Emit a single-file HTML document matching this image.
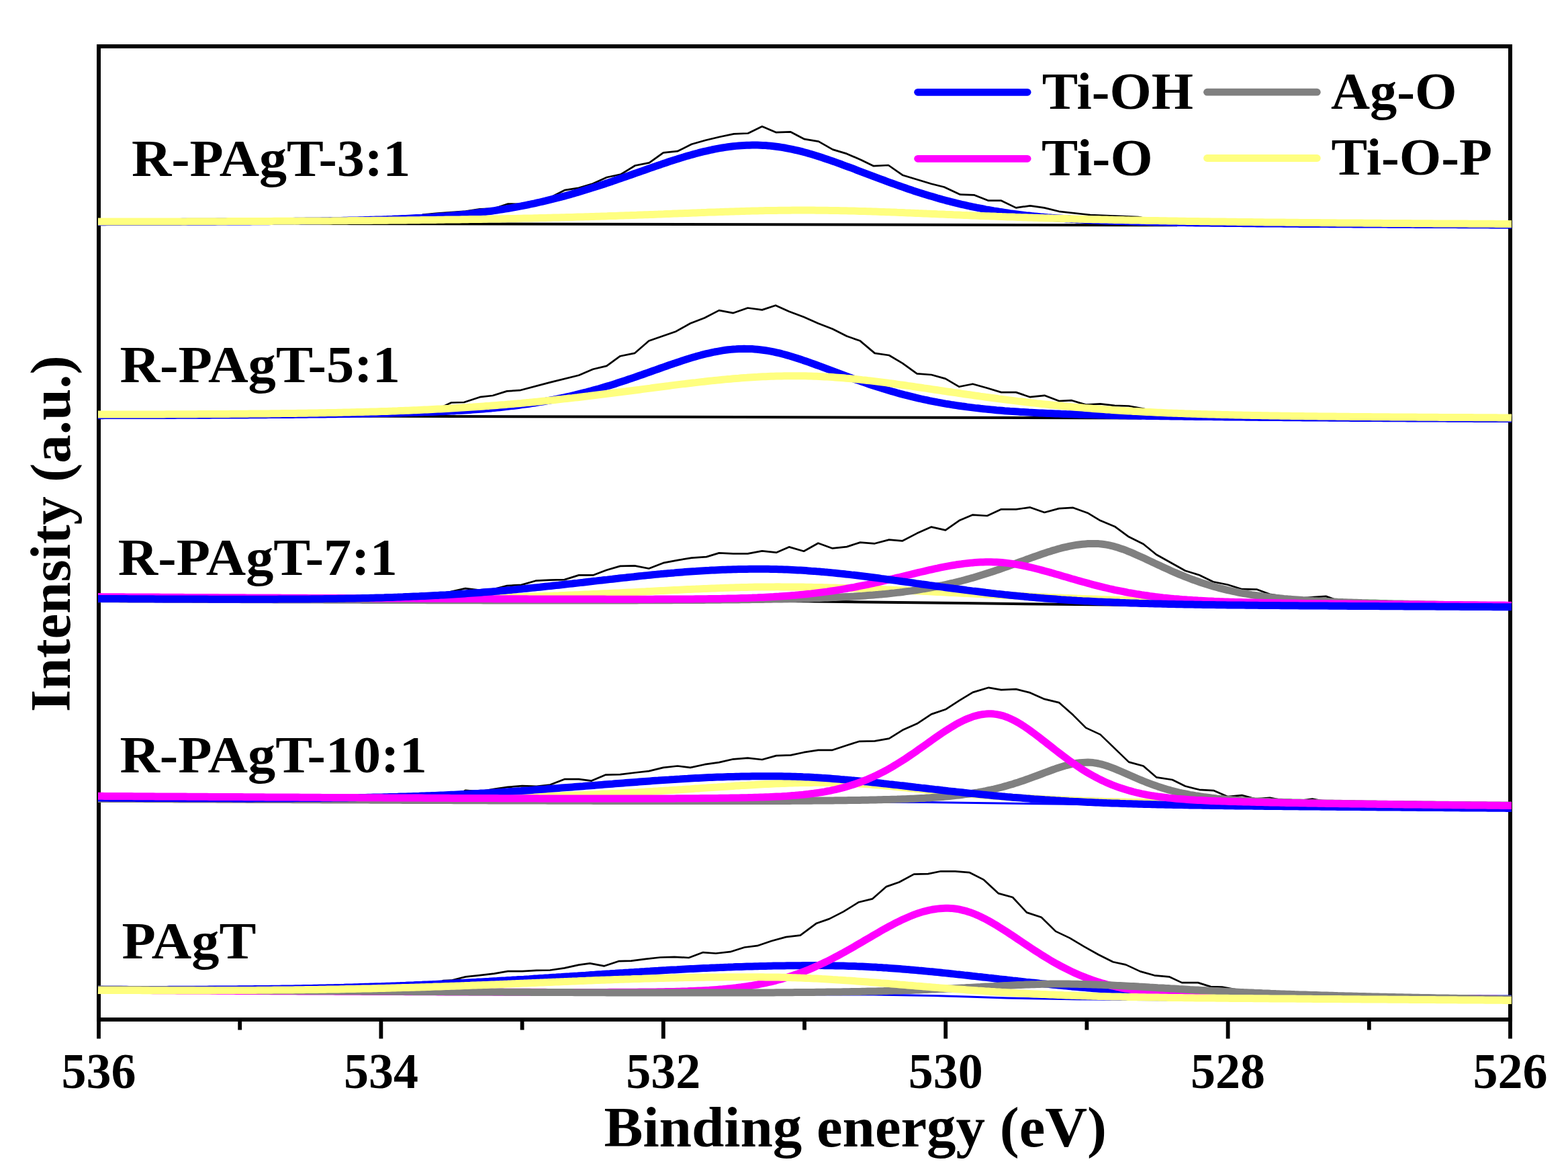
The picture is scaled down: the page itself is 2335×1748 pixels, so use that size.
<!DOCTYPE html>
<html><head><meta charset="utf-8"><style>html,body{margin:0;padding:0;background:#fff;overflow:hidden;}svg{display:block;}</style></head><body>
<svg width="2335" height="1748" viewBox="0 0 2335 1748">
<rect width="2335" height="1748" fill="#fff"/>
<rect x="147" y="69" width="2102" height="1449" fill="none" stroke="#000" stroke-width="6"/>
<g fill="none" stroke-linejoin="round">
<polyline points="440,333 1753,335.3" stroke="#000" stroke-width="4"/>
<polyline points="146,330.1 168,330.1 189,330.1 210.1,330 231.1,330 252.1,329.9 273.1,329.9 294.1,329.8 315.2,329.7 336.2,329.7 357.2,329.6 378.2,329.5 399.2,329.4 420.3,329.3 441.3,329.2 462.3,329 483.3,328.9 504.3,328.8 525.4,328.6 546.4,328.4 567.4,328.2 588.4,328 609.4,327.8 630.5,319.5 651.5,317.5 672.5,316 693.5,314.6 714.5,311.3 735.6,310.6 756.6,303.5 777.6,304 798.6,299.3 819.6,293.9 840.7,283.2 861.7,279.8 882.7,273.6 903.7,264 924.7,259.5 945.8,246.5 966.8,242.4 987.8,227.3 1008.8,225.2 1029.8,214.8 1050.9,208.8 1071.9,203.7 1092.9,199.4 1113.9,198.5 1134.9,188.3 1156,197.2 1177,196.3 1198,207.2 1219,210.7 1240,222.6 1261,228.9 1282,238 1301,247.2 1323,246 1344,260.7 1387,273.8 1406,278.5 1430,289.7 1451,290.4 1472,298.7 1491,298.7 1513,309.4 1534,306.3 1555,309.4 1577,314.8 1624,320 1672,322 1695,323.1 1723.5,328.6 1744.5,329 1765.5,329.3 1786.6,329.6 1807.6,329.9 1828.6,330.2 1849.6,330.5 1870.6,330.7 1891.7,330.9 1912.7,331.2 1933.7,331.4 1954.7,331.5 1975.7,331.7 1996.8,331.9 2017.8,332.1 2038.8,332.2 2059.8,332.4 2080.8,332.5 2101.9,332.7 2122.9,332.8 2143.9,332.9 2164.9,333 2185.9,333.1 2207,333.3 2228,333.4 2251,333.5" stroke="#000" stroke-width="2.7"/>
<polyline points="146,330.7 148,330.7 152,330.7 156,330.7 160,330.6 164,330.6 168,330.6 172,330.6 176,330.6 180,330.6 184,330.6 188,330.6 192,330.6 196,330.6 200,330.6 204,330.6 208,330.5 212,330.5 216,330.5 220,330.5 224,330.5 228,330.5 232,330.5 236,330.5 240,330.5 244,330.4 248,330.4 252,330.4 256,330.4 260,330.4 264,330.4 268,330.4 272,330.3 276,330.3 280,330.3 284,330.3 288,330.3 292,330.3 296,330.3 300,330.2 304,330.2 308,330.2 312,330.2 316,330.2 320,330.2 324,330.1 328,330.1 332,330.1 336,330.1 340,330.1 344,330 348,330 352,330 356,330 360,329.9 364,329.9 368,329.9 372,329.9 376,329.8 380,329.8 384,329.8 388,329.8 392,329.7 396,329.7 400,329.7 404,329.6 408,329.6 412,329.6 416,329.5 420,329.5 424,329.5 428,329.4 432,329.4 436,329.4 440,329.3 444,329.3 448,329.2 452,329.2 456,329.1 460,329.1 464,329 468,329 472,328.9 476,328.9 480,328.8 484,328.8 488,328.7 492,328.6 496,328.6 500,328.5 504,328.4 508,328.4 512,328.3 516,328.2 520,328.1 524,328 528,327.9 532,327.9 536,327.8 540,327.7 544,327.6 548,327.5 552,327.3 556,327.2 560,327.1 564,327 568,326.9 572,326.7 576,326.6 580,326.4 584,326.3 588,326.1 592,326 596,325.8 600,325.6 604,325.4 608,325.2 612,325 616,324.8 620,324.6 624,324.4 628,324.2 632,323.9 636,323.7 640,323.4 644,323.2 648,322.9 652,322.6 656,322.3 660,322 664,321.7 668,321.3 672,321 676,320.6 680,320.3 684,319.9 688,319.5 692,319.1 696,318.7 700,318.2 704,317.8 708,317.3 712,316.8 716,316.3 720,315.8 724,315.3 728,314.8 732,314.2 736,313.6 740,313 744,312.4 748,311.8 752,311.1 756,310.5 760,309.8 764,309.1 768,308.4 772,307.6 776,306.9 780,306.1 784,305.3 788,304.5 792,303.6 796,302.8 800,301.9 804,301 808,300.1 812,299.2 816,298.2 820,297.2 824,296.2 828,295.2 832,294.2 836,293.1 840,292.1 844,291 848,289.9 852,288.7 856,287.6 860,286.4 864,285.2 868,284 872,282.8 876,281.6 880,280.3 884,279.1 888,277.8 892,276.5 896,275.2 900,273.9 904,272.6 908,271.2 912,269.9 916,268.5 920,267.1 924,265.8 928,264.4 932,263 936,261.6 940,260.2 944,258.8 948,257.4 952,256 956,254.6 960,253.2 964,251.8 968,250.4 972,249 976,247.6 980,246.2 984,244.9 988,243.5 992,242.2 996,240.8 1000,239.5 1004,238.2 1008,237 1012,235.7 1016,234.5 1020,233.3 1024,232.1 1028,231 1032,229.9 1036,228.8 1040,227.7 1044,226.7 1048,225.7 1052,224.8 1056,223.9 1060,223 1064,222.2 1068,221.4 1072,220.7 1076,220 1080,219.4 1084,218.8 1088,218.3 1092,217.8 1096,217.4 1100,217 1104,216.7 1108,216.5 1112,216.3 1116,216.2 1120,216.1 1124,216.1 1128,216.1 1132,216.2 1136,216.4 1140,216.6 1144,216.9 1148,217.3 1152,217.7 1156,218.2 1160,218.8 1164,219.4 1168,220 1172,220.8 1176,221.6 1180,222.4 1184,223.3 1188,224.2 1192,225.2 1196,226.2 1200,227.3 1204,228.4 1208,229.6 1212,230.8 1216,232 1220,233.3 1224,234.6 1228,235.9 1232,237.2 1236,238.6 1240,240 1244,241.4 1248,242.9 1252,244.3 1256,245.8 1260,247.3 1264,248.7 1268,250.2 1272,251.7 1276,253.3 1280,254.8 1284,256.3 1288,257.8 1292,259.3 1296,260.8 1300,262.4 1304,263.9 1308,265.4 1312,266.9 1316,268.3 1320,269.8 1324,271.3 1328,272.7 1332,274.2 1336,275.6 1340,277 1344,278.4 1348,279.8 1352,281.2 1356,282.5 1360,283.9 1364,285.2 1368,286.5 1372,287.7 1376,289 1380,290.2 1384,291.4 1388,292.6 1392,293.8 1396,295 1400,296.1 1404,297.2 1408,298.3 1412,299.3 1416,300.4 1420,301.4 1424,302.4 1428,303.3 1432,304.3 1436,305.2 1440,306.1 1444,307 1448,307.8 1452,308.6 1456,309.5 1460,310.2 1464,311 1468,311.8 1472,312.5 1476,313.2 1480,313.9 1484,314.5 1488,315.2 1492,315.8 1496,316.4 1500,317 1504,317.6 1508,318.1 1512,318.6 1516,319.1 1520,319.6 1524,320.1 1528,320.6 1532,321 1536,321.5 1540,321.9 1544,322.3 1548,322.7 1552,323.1 1556,323.4 1560,323.8 1564,324.1 1568,324.4 1572,324.7 1576,325 1580,325.3 1584,325.6 1588,325.9 1592,326.1 1596,326.4 1600,326.6 1604,326.9 1608,327.1 1612,327.3 1616,327.5 1620,327.7 1624,327.9 1628,328.1 1632,328.3 1636,328.4 1640,328.6 1644,328.8 1648,328.9 1652,329.1 1656,329.2 1660,329.3 1664,329.5 1668,329.6 1672,329.7 1676,329.8 1680,329.9 1684,330.1 1688,330.2 1692,330.3 1696,330.4 1700,330.5 1704,330.6 1708,330.6 1712,330.7 1716,330.8 1720,330.9 1724,331 1728,331.1 1732,331.1 1736,331.2 1740,331.3 1744,331.3 1748,331.4 1752,331.5 1756,331.5 1760,331.6 1764,331.6 1768,331.7 1772,331.8 1776,331.8 1780,331.9 1784,331.9 1788,332 1792,332 1796,332.1 1800,332.1 1804,332.2 1808,332.2 1812,332.3 1816,332.3 1820,332.3 1824,332.4 1828,332.4 1832,332.5 1836,332.5 1840,332.6 1844,332.6 1848,332.6 1852,332.7 1856,332.7 1860,332.7 1864,332.8 1868,332.8 1872,332.9 1876,332.9 1880,332.9 1884,333 1888,333 1892,333 1896,333.1 1900,333.1 1904,333.1 1908,333.1 1912,333.2 1916,333.2 1920,333.2 1924,333.3 1928,333.3 1932,333.3 1936,333.4 1940,333.4 1944,333.4 1948,333.4 1952,333.5 1956,333.5 1960,333.5 1964,333.5 1968,333.6 1972,333.6 1976,333.6 1980,333.7 1984,333.7 1988,333.7 1992,333.7 1996,333.8 2000,333.8 2004,333.8 2008,333.8 2012,333.8 2016,333.9 2020,333.9 2024,333.9 2028,333.9 2032,334 2036,334 2040,334 2044,334 2048,334.1 2052,334.1 2056,334.1 2060,334.1 2064,334.1 2068,334.2 2072,334.2 2076,334.2 2080,334.2 2084,334.2 2088,334.3 2092,334.3 2096,334.3 2100,334.3 2104,334.3 2108,334.4 2112,334.4 2116,334.4 2120,334.4 2124,334.4 2128,334.5 2132,334.5 2136,334.5 2140,334.5 2144,334.5 2148,334.5 2152,334.6 2156,334.6 2160,334.6 2164,334.6 2168,334.6 2172,334.7 2176,334.7 2180,334.7 2184,334.7 2188,334.7 2192,334.7 2196,334.8 2200,334.8 2204,334.8 2208,334.8 2212,334.8 2216,334.8 2220,334.9 2224,334.9 2228,334.9 2232,334.9 2236,334.9 2240,334.9 2244,335 2248,335 2251,335" stroke="#0000ff" stroke-width="11"/>
<polyline points="146,330.1 148,330.1 152,330.1 156,330.1 160,330.1 164,330.1 168,330.1 172,330.1 176,330.1 180,330.1 184,330.1 188,330.1 192,330.1 196,330.1 200,330 204,330 208,330 212,330 216,330 220,330 224,330 228,330 232,330 236,330 240,330 244,329.9 248,329.9 252,329.9 256,329.9 260,329.9 264,329.9 268,329.9 272,329.9 276,329.9 280,329.8 284,329.8 288,329.8 292,329.8 296,329.8 300,329.8 304,329.8 308,329.8 312,329.7 316,329.7 320,329.7 324,329.7 328,329.7 332,329.7 336,329.7 340,329.6 344,329.6 348,329.6 352,329.6 356,329.6 360,329.6 364,329.5 368,329.5 372,329.5 376,329.5 380,329.5 384,329.5 388,329.4 392,329.4 396,329.4 400,329.4 404,329.4 408,329.3 412,329.3 416,329.3 420,329.3 424,329.3 428,329.2 432,329.2 436,329.2 440,329.2 444,329.2 448,329.1 452,329.1 456,329.1 460,329.1 464,329 468,329 472,329 476,329 480,328.9 484,328.9 488,328.9 492,328.9 496,328.8 500,328.8 504,328.8 508,328.7 512,328.7 516,328.7 520,328.6 524,328.6 528,328.6 532,328.6 536,328.5 540,328.5 544,328.5 548,328.4 552,328.4 556,328.3 560,328.3 564,328.3 568,328.2 572,328.2 576,328.2 580,328.1 584,328.1 588,328 592,328 596,328 600,327.9 604,327.9 608,327.8 612,327.8 616,327.7 620,327.7 624,327.7 628,327.6 632,327.6 636,327.5 640,327.5 644,327.4 648,327.4 652,327.3 656,327.3 660,327.2 664,327.1 668,327.1 672,327 676,327 680,326.9 684,326.9 688,326.8 692,326.7 696,326.7 700,326.6 704,326.5 708,326.5 712,326.4 716,326.4 720,326.3 724,326.2 728,326.1 732,326.1 736,326 740,325.9 744,325.9 748,325.8 752,325.7 756,325.6 760,325.5 764,325.5 768,325.4 772,325.3 776,325.2 780,325.1 784,325 788,325 792,324.9 796,324.8 800,324.7 804,324.6 808,324.5 812,324.4 816,324.3 820,324.2 824,324.1 828,324 832,323.9 836,323.8 840,323.7 844,323.6 848,323.5 852,323.4 856,323.2 860,323.1 864,323 868,322.9 872,322.8 876,322.7 880,322.5 884,322.4 888,322.3 892,322.2 896,322 900,321.9 904,321.8 908,321.6 912,321.5 916,321.4 920,321.2 924,321.1 928,321 932,320.8 936,320.7 940,320.5 944,320.4 948,320.3 952,320.1 956,320 960,319.8 964,319.7 968,319.5 972,319.4 976,319.2 980,319.1 984,318.9 988,318.8 992,318.6 996,318.4 1000,318.3 1004,318.1 1008,318 1012,317.8 1016,317.7 1020,317.5 1024,317.4 1028,317.2 1032,317 1036,316.9 1040,316.7 1044,316.6 1048,316.4 1052,316.3 1056,316.1 1060,316 1064,315.9 1068,315.7 1072,315.6 1076,315.4 1080,315.3 1084,315.2 1088,315 1092,314.9 1096,314.8 1100,314.7 1104,314.5 1108,314.4 1112,314.3 1116,314.2 1120,314.1 1124,314 1128,313.9 1132,313.8 1136,313.7 1140,313.6 1144,313.6 1148,313.5 1152,313.4 1156,313.4 1160,313.3 1164,313.3 1168,313.2 1172,313.2 1176,313.2 1180,313.1 1184,313.1 1188,313.1 1192,313.1 1196,313.1 1200,313.1 1204,313.1 1208,313.1 1212,313.1 1216,313.2 1220,313.2 1224,313.2 1228,313.3 1232,313.3 1236,313.4 1240,313.4 1244,313.5 1248,313.6 1252,313.7 1256,313.7 1260,313.8 1264,313.9 1268,314 1272,314.1 1276,314.2 1280,314.4 1284,314.5 1288,314.6 1292,314.7 1296,314.8 1300,315 1304,315.1 1308,315.2 1312,315.4 1316,315.5 1320,315.7 1324,315.8 1328,316 1332,316.1 1336,316.3 1340,316.4 1344,316.6 1348,316.8 1352,316.9 1356,317.1 1360,317.2 1364,317.4 1368,317.6 1372,317.7 1376,317.9 1380,318.1 1384,318.2 1388,318.4 1392,318.6 1396,318.8 1400,318.9 1404,319.1 1408,319.3 1412,319.4 1416,319.6 1420,319.8 1424,319.9 1428,320.1 1432,320.3 1436,320.4 1440,320.6 1444,320.7 1448,320.9 1452,321.1 1456,321.2 1460,321.4 1464,321.5 1468,321.7 1472,321.8 1476,322 1480,322.1 1484,322.3 1488,322.4 1492,322.6 1496,322.7 1500,322.9 1504,323 1508,323.1 1512,323.3 1516,323.4 1520,323.6 1524,323.7 1528,323.8 1532,324 1536,324.1 1540,324.2 1544,324.3 1548,324.5 1552,324.6 1556,324.7 1560,324.8 1564,324.9 1568,325.1 1572,325.2 1576,325.3 1580,325.4 1584,325.5 1588,325.6 1592,325.7 1596,325.8 1600,326 1604,326.1 1608,326.2 1612,326.3 1616,326.4 1620,326.5 1624,326.6 1628,326.7 1632,326.8 1636,326.8 1640,326.9 1644,327 1648,327.1 1652,327.2 1656,327.3 1660,327.4 1664,327.5 1668,327.6 1672,327.6 1676,327.7 1680,327.8 1684,327.9 1688,328 1692,328 1696,328.1 1700,328.2 1704,328.3 1708,328.4 1712,328.4 1716,328.5 1720,328.6 1724,328.6 1728,328.7 1732,328.8 1736,328.8 1740,328.9 1744,329 1748,329 1752,329.1 1756,329.2 1760,329.2 1764,329.3 1768,329.4 1772,329.4 1776,329.5 1780,329.5 1784,329.6 1788,329.7 1792,329.7 1796,329.8 1800,329.8 1804,329.9 1808,329.9 1812,330 1816,330 1820,330.1 1824,330.1 1828,330.2 1832,330.2 1836,330.3 1840,330.3 1844,330.4 1848,330.4 1852,330.5 1856,330.5 1860,330.6 1864,330.6 1868,330.7 1872,330.7 1876,330.8 1880,330.8 1884,330.9 1888,330.9 1892,330.9 1896,331 1900,331 1904,331.1 1908,331.1 1912,331.1 1916,331.2 1920,331.2 1924,331.3 1928,331.3 1932,331.3 1936,331.4 1940,331.4 1944,331.5 1948,331.5 1952,331.5 1956,331.6 1960,331.6 1964,331.6 1968,331.7 1972,331.7 1976,331.7 1980,331.8 1984,331.8 1988,331.8 1992,331.9 1996,331.9 2000,331.9 2004,332 2008,332 2012,332 2016,332.1 2020,332.1 2024,332.1 2028,332.1 2032,332.2 2036,332.2 2040,332.2 2044,332.3 2048,332.3 2052,332.3 2056,332.3 2060,332.4 2064,332.4 2068,332.4 2072,332.5 2076,332.5 2080,332.5 2084,332.5 2088,332.6 2092,332.6 2096,332.6 2100,332.6 2104,332.7 2108,332.7 2112,332.7 2116,332.7 2120,332.8 2124,332.8 2128,332.8 2132,332.8 2136,332.9 2140,332.9 2144,332.9 2148,332.9 2152,333 2156,333 2160,333 2164,333 2168,333 2172,333.1 2176,333.1 2180,333.1 2184,333.1 2188,333.2 2192,333.2 2196,333.2 2200,333.2 2204,333.2 2208,333.3 2212,333.3 2216,333.3 2220,333.3 2224,333.3 2228,333.4 2232,333.4 2236,333.4 2240,333.4 2244,333.4 2248,333.5 2251,333.5" stroke="#ffff80" stroke-width="11"/>
<polyline points="500,619.6 1700,622.4" stroke="#000" stroke-width="4"/>
<polyline points="146,617.1 168,617.1 189,617 210.1,617 231.1,616.9 252.1,616.8 273.1,616.7 294.1,616.6 315.2,616.5 336.2,616.4 357.2,616.3 378.2,616.1 399.2,615.9 420.3,615.6 441.3,615.4 462.3,615.1 483.3,614.7 504.3,614.3 525.4,613.8 546.4,613.3 567.4,612.6 588.4,611.9 609.4,611.1 630.5,610.2 651.5,609.2 672,599.5 691,599 714.7,591.2 733.7,589 755,582.4 774,581.2 819,569.4 862,558.7 883,549.7 903.4,544.9 923.6,530.2 945,525.9 966.3,507.6 1006.7,493.4 1028,481.5 1049.4,473.2 1070.8,462.1 1092,466.1 1113.5,458.5 1134.9,461.4 1155,454.7 1175,463.7 1197,472 1218.4,481.5 1239.7,489.8 1261,500.5 1281,507.6 1302.6,525.9 1324,529 1344,540.9 1365.5,556.3 1387,558 1408,563.9 1428.4,575.8 1448.6,571.7 1470,577.7 1491,584.1 1513,584.1 1534,591.2 1555.4,588.8 1577,597.1 1596,596.2 1617,602.6 1638.5,601.4 1660,603.8 1681,604.5 1702.6,608.5 1723.5,614.1 1744.5,615 1765.5,615.8 1786.6,616.5 1807.6,617.1 1828.6,617.7 1849.6,618.1 1870.6,618.5 1891.7,618.9 1912.7,619.2 1933.7,619.5 1954.7,619.8 1975.7,620 1996.8,620.2 2017.8,620.4 2038.8,620.6 2059.8,620.8 2080.8,620.9 2101.9,621.1 2122.9,621.2 2143.9,621.4 2164.9,621.5 2185.9,621.6 2207,621.7 2228,621.8 2251,622" stroke="#000" stroke-width="2.7"/>
<polyline points="146,618.7 148,618.7 152,618.7 156,618.6 160,618.6 164,618.6 168,618.6 172,618.6 176,618.6 180,618.6 184,618.6 188,618.6 192,618.6 196,618.6 200,618.5 204,618.5 208,618.5 212,618.5 216,618.5 220,618.5 224,618.5 228,618.5 232,618.5 236,618.4 240,618.4 244,618.4 248,618.4 252,618.4 256,618.4 260,618.4 264,618.3 268,618.3 272,618.3 276,618.3 280,618.3 284,618.3 288,618.3 292,618.2 296,618.2 300,618.2 304,618.2 308,618.2 312,618.2 316,618.1 320,618.1 324,618.1 328,618.1 332,618.1 336,618 340,618 344,618 348,618 352,617.9 356,617.9 360,617.9 364,617.9 368,617.9 372,617.8 376,617.8 380,617.8 384,617.8 388,617.7 392,617.7 396,617.7 400,617.6 404,617.6 408,617.6 412,617.6 416,617.5 420,617.5 424,617.5 428,617.4 432,617.4 436,617.4 440,617.3 444,617.3 448,617.2 452,617.2 456,617.2 460,617.1 464,617.1 468,617 472,617 476,617 480,616.9 484,616.9 488,616.8 492,616.8 496,616.7 500,616.7 504,616.6 508,616.6 512,616.5 516,616.5 520,616.4 524,616.3 528,616.3 532,616.2 536,616.2 540,616.1 544,616 548,616 552,615.9 556,615.8 560,615.7 564,615.6 568,615.6 572,615.5 576,615.4 580,615.3 584,615.2 588,615.1 592,615 596,614.9 600,614.8 604,614.7 608,614.6 612,614.5 616,614.3 620,614.2 624,614.1 628,614 632,613.8 636,613.7 640,613.5 644,613.4 648,613.2 652,613 656,612.8 660,612.7 664,612.5 668,612.3 672,612.1 676,611.9 680,611.6 684,611.4 688,611.2 692,610.9 696,610.7 700,610.4 704,610.1 708,609.8 712,609.5 716,609.2 720,608.9 724,608.6 728,608.2 732,607.9 736,607.5 740,607.1 744,606.7 748,606.3 752,605.8 756,605.4 760,604.9 764,604.5 768,604 772,603.5 776,602.9 780,602.4 784,601.8 788,601.2 792,600.6 796,600 800,599.4 804,598.7 808,598 812,597.3 816,596.6 820,595.8 824,595.1 828,594.3 832,593.5 836,592.7 840,591.8 844,590.9 848,590 852,589.1 856,588.2 860,587.2 864,586.2 868,585.2 872,584.2 876,583.1 880,582 884,580.9 888,579.8 892,578.7 896,577.5 900,576.3 904,575.1 908,573.9 912,572.7 916,571.4 920,570.1 924,568.8 928,567.5 932,566.2 936,564.8 940,563.5 944,562.1 948,560.7 952,559.3 956,558 960,556.5 964,555.1 968,553.7 972,552.3 976,550.9 980,549.5 984,548 988,546.6 992,545.2 996,543.8 1000,542.4 1004,541.1 1008,539.7 1012,538.4 1016,537.1 1020,535.8 1024,534.5 1028,533.3 1032,532.1 1036,530.9 1040,529.8 1044,528.7 1048,527.7 1052,526.7 1056,525.8 1060,524.9 1064,524 1068,523.3 1072,522.6 1076,521.9 1080,521.3 1084,520.8 1088,520.4 1092,520 1096,519.8 1100,519.5 1104,519.4 1108,519.3 1112,519.4 1116,519.5 1120,519.6 1124,519.9 1128,520.2 1132,520.7 1136,521.2 1140,521.8 1144,522.4 1148,523.1 1152,523.9 1156,524.8 1160,525.7 1164,526.7 1168,527.8 1172,528.9 1176,530 1180,531.2 1184,532.4 1188,533.7 1192,535 1196,536.4 1200,537.7 1204,539.1 1208,540.6 1212,542 1216,543.5 1220,544.9 1224,546.4 1228,547.9 1232,549.4 1236,550.9 1240,552.4 1244,553.9 1248,555.4 1252,556.9 1256,558.4 1260,559.9 1264,561.4 1268,562.8 1272,564.3 1276,565.7 1280,567.1 1284,568.5 1288,569.9 1292,571.3 1296,572.7 1300,574 1304,575.3 1308,576.6 1312,577.8 1316,579.1 1320,580.3 1324,581.5 1328,582.7 1332,583.8 1336,585 1340,586.1 1344,587.1 1348,588.2 1352,589.2 1356,590.2 1360,591.2 1364,592.2 1368,593.1 1372,594 1376,594.9 1380,595.7 1384,596.6 1388,597.4 1392,598.1 1396,598.9 1400,599.6 1404,600.4 1408,601.1 1412,601.7 1416,602.4 1420,603 1424,603.6 1428,604.2 1432,604.8 1436,605.3 1440,605.9 1444,606.4 1448,606.9 1452,607.4 1456,607.8 1460,608.3 1464,608.7 1468,609.1 1472,609.5 1476,609.9 1480,610.3 1484,610.7 1488,611 1492,611.3 1496,611.7 1500,612 1504,612.3 1508,612.5 1512,612.8 1516,613.1 1520,613.4 1524,613.6 1528,613.8 1532,614.1 1536,614.3 1540,614.5 1544,614.7 1548,614.9 1552,615.1 1556,615.3 1560,615.5 1564,615.6 1568,615.8 1572,616 1576,616.1 1580,616.3 1584,616.4 1588,616.6 1592,616.7 1596,616.8 1600,617 1604,617.1 1608,617.2 1612,617.3 1616,617.4 1620,617.5 1624,617.6 1628,617.7 1632,617.8 1636,617.9 1640,618 1644,618.1 1648,618.2 1652,618.3 1656,618.4 1660,618.5 1664,618.6 1668,618.7 1672,618.7 1676,618.8 1680,618.9 1684,619 1688,619 1692,619.1 1696,619.2 1700,619.2 1704,619.3 1708,619.4 1712,619.4 1716,619.5 1720,619.6 1724,619.6 1728,619.7 1732,619.7 1736,619.8 1740,619.8 1744,619.9 1748,620 1752,620 1756,620.1 1760,620.1 1764,620.2 1768,620.2 1772,620.3 1776,620.3 1780,620.4 1784,620.4 1788,620.5 1792,620.5 1796,620.6 1800,620.6 1804,620.6 1808,620.7 1812,620.7 1816,620.8 1820,620.8 1824,620.9 1828,620.9 1832,620.9 1836,621 1840,621 1844,621.1 1848,621.1 1852,621.1 1856,621.2 1860,621.2 1864,621.2 1868,621.3 1872,621.3 1876,621.4 1880,621.4 1884,621.4 1888,621.5 1892,621.5 1896,621.5 1900,621.6 1904,621.6 1908,621.6 1912,621.7 1916,621.7 1920,621.7 1924,621.8 1928,621.8 1932,621.8 1936,621.8 1940,621.9 1944,621.9 1948,621.9 1952,622 1956,622 1960,622 1964,622 1968,622.1 1972,622.1 1976,622.1 1980,622.2 1984,622.2 1988,622.2 1992,622.2 1996,622.3 2000,622.3 2004,622.3 2008,622.3 2012,622.4 2016,622.4 2020,622.4 2024,622.4 2028,622.5 2032,622.5 2036,622.5 2040,622.5 2044,622.6 2048,622.6 2052,622.6 2056,622.6 2060,622.7 2064,622.7 2068,622.7 2072,622.7 2076,622.7 2080,622.8 2084,622.8 2088,622.8 2092,622.8 2096,622.9 2100,622.9 2104,622.9 2108,622.9 2112,622.9 2116,623 2120,623 2124,623 2128,623 2132,623 2136,623.1 2140,623.1 2144,623.1 2148,623.1 2152,623.1 2156,623.2 2160,623.2 2164,623.2 2168,623.2 2172,623.2 2176,623.3 2180,623.3 2184,623.3 2188,623.3 2192,623.3 2196,623.4 2200,623.4 2204,623.4 2208,623.4 2212,623.4 2216,623.4 2220,623.5 2224,623.5 2228,623.5 2232,623.5 2236,623.5 2240,623.5 2244,623.6 2248,623.6 2251,623.6" stroke="#0000ff" stroke-width="11"/>
<polyline points="146,617.1 148,617.1 152,617.1 156,617.1 160,617.1 164,617.1 168,617.1 172,617.1 176,617 180,617 184,617 188,617 192,617 196,617 200,617 204,617 208,617 212,617 216,616.9 220,616.9 224,616.9 228,616.9 232,616.9 236,616.9 240,616.9 244,616.9 248,616.8 252,616.8 256,616.8 260,616.8 264,616.8 268,616.8 272,616.7 276,616.7 280,616.7 284,616.7 288,616.7 292,616.7 296,616.6 300,616.6 304,616.6 308,616.6 312,616.5 316,616.5 320,616.5 324,616.5 328,616.5 332,616.4 336,616.4 340,616.4 344,616.3 348,616.3 352,616.3 356,616.3 360,616.2 364,616.2 368,616.2 372,616.1 376,616.1 380,616.1 384,616 388,616 392,615.9 396,615.9 400,615.9 404,615.8 408,615.8 412,615.7 416,615.7 420,615.6 424,615.6 428,615.5 432,615.5 436,615.4 440,615.4 444,615.3 448,615.3 452,615.2 456,615.2 460,615.1 464,615 468,615 472,614.9 476,614.8 480,614.8 484,614.7 488,614.6 492,614.5 496,614.5 500,614.4 504,614.3 508,614.2 512,614.1 516,614 520,613.9 524,613.8 528,613.7 532,613.6 536,613.5 540,613.4 544,613.3 548,613.2 552,613.1 556,613 560,612.9 564,612.7 568,612.6 572,612.5 576,612.4 580,612.2 584,612.1 588,611.9 592,611.8 596,611.6 600,611.5 604,611.3 608,611.2 612,611 616,610.8 620,610.7 624,610.5 628,610.3 632,610.1 636,609.9 640,609.7 644,609.5 648,609.3 652,609.1 656,608.9 660,608.7 664,608.5 668,608.3 672,608 676,607.8 680,607.6 684,607.3 688,607.1 692,606.8 696,606.6 700,606.3 704,606.1 708,605.8 712,605.5 716,605.2 720,604.9 724,604.6 728,604.4 732,604 736,603.7 740,603.4 744,603.1 748,602.8 752,602.5 756,602.1 760,601.8 764,601.4 768,601.1 772,600.7 776,600.4 780,600 784,599.6 788,599.3 792,598.9 796,598.5 800,598.1 804,597.7 808,597.3 812,596.9 816,596.5 820,596.1 824,595.7 828,595.2 832,594.8 836,594.4 840,593.9 844,593.5 848,593 852,592.6 856,592.1 860,591.7 864,591.2 868,590.7 872,590.2 876,589.8 880,589.3 884,588.8 888,588.3 892,587.8 896,587.3 900,586.8 904,586.3 908,585.8 912,585.3 916,584.8 920,584.3 924,583.8 928,583.3 932,582.8 936,582.2 940,581.7 944,581.2 948,580.7 952,580.2 956,579.6 960,579.1 964,578.6 968,578.1 972,577.5 976,577 980,576.5 984,576 988,575.5 992,575 996,574.5 1000,573.9 1004,573.4 1008,572.9 1012,572.4 1016,571.9 1020,571.5 1024,571 1028,570.5 1032,570 1036,569.6 1040,569.1 1044,568.6 1048,568.2 1052,567.7 1056,567.3 1060,566.9 1064,566.5 1068,566.1 1072,565.7 1076,565.3 1080,564.9 1084,564.5 1088,564.2 1092,563.8 1096,563.5 1100,563.2 1104,562.8 1108,562.5 1112,562.3 1116,562 1120,561.7 1124,561.5 1128,561.3 1132,561 1136,560.8 1140,560.7 1144,560.5 1148,560.3 1152,560.2 1156,560.1 1160,560 1164,559.9 1168,559.8 1172,559.7 1176,559.7 1180,559.7 1184,559.7 1188,559.7 1192,559.7 1196,559.7 1200,559.8 1204,559.9 1208,560 1212,560.2 1216,560.3 1220,560.5 1224,560.7 1228,560.9 1232,561.1 1236,561.3 1240,561.6 1244,561.9 1248,562.2 1252,562.5 1256,562.8 1260,563.2 1264,563.5 1268,563.9 1272,564.3 1276,564.7 1280,565.1 1284,565.6 1288,566 1292,566.5 1296,566.9 1300,567.4 1304,567.9 1308,568.4 1312,568.9 1316,569.4 1320,569.9 1324,570.5 1328,571 1332,571.5 1336,572.1 1340,572.7 1344,573.2 1348,573.8 1352,574.4 1356,574.9 1360,575.5 1364,576.1 1368,576.7 1372,577.3 1376,577.9 1380,578.4 1384,579 1388,579.6 1392,580.2 1396,580.8 1400,581.4 1404,582 1408,582.6 1412,583.2 1416,583.8 1420,584.4 1424,584.9 1428,585.5 1432,586.1 1436,586.7 1440,587.3 1444,587.8 1448,588.4 1452,589 1456,589.5 1460,590.1 1464,590.6 1468,591.2 1472,591.7 1476,592.3 1480,592.8 1484,593.3 1488,593.9 1492,594.4 1496,594.9 1500,595.4 1504,595.9 1508,596.4 1512,596.9 1516,597.4 1520,597.8 1524,598.3 1528,598.8 1532,599.2 1536,599.7 1540,600.1 1544,600.6 1548,601 1552,601.5 1556,601.9 1560,602.3 1564,602.7 1568,603.1 1572,603.5 1576,603.9 1580,604.3 1584,604.7 1588,605 1592,605.4 1596,605.8 1600,606.1 1604,606.5 1608,606.8 1612,607.1 1616,607.5 1620,607.8 1624,608.1 1628,608.4 1632,608.7 1636,609 1640,609.3 1644,609.6 1648,609.9 1652,610.1 1656,610.4 1660,610.7 1664,610.9 1668,611.2 1672,611.4 1676,611.7 1680,611.9 1684,612.1 1688,612.4 1692,612.6 1696,612.8 1700,613 1704,613.2 1708,613.4 1712,613.6 1716,613.8 1720,614 1724,614.2 1728,614.3 1732,614.5 1736,614.7 1740,614.9 1744,615 1748,615.2 1752,615.3 1756,615.5 1760,615.6 1764,615.8 1768,615.9 1772,616 1776,616.2 1780,616.3 1784,616.4 1788,616.6 1792,616.7 1796,616.8 1800,616.9 1804,617 1808,617.1 1812,617.2 1816,617.3 1820,617.4 1824,617.5 1828,617.6 1832,617.7 1836,617.8 1840,617.9 1844,618 1848,618.1 1852,618.2 1856,618.3 1860,618.3 1864,618.4 1868,618.5 1872,618.6 1876,618.6 1880,618.7 1884,618.8 1888,618.8 1892,618.9 1896,619 1900,619 1904,619.1 1908,619.2 1912,619.2 1916,619.3 1920,619.3 1924,619.4 1928,619.4 1932,619.5 1936,619.6 1940,619.6 1944,619.7 1948,619.7 1952,619.8 1956,619.8 1960,619.8 1964,619.9 1968,619.9 1972,620 1976,620 1980,620.1 1984,620.1 1988,620.1 1992,620.2 1996,620.2 2000,620.3 2004,620.3 2008,620.3 2012,620.4 2016,620.4 2020,620.5 2024,620.5 2028,620.5 2032,620.6 2036,620.6 2040,620.6 2044,620.7 2048,620.7 2052,620.7 2056,620.8 2060,620.8 2064,620.8 2068,620.8 2072,620.9 2076,620.9 2080,620.9 2084,621 2088,621 2092,621 2096,621 2100,621.1 2104,621.1 2108,621.1 2112,621.2 2116,621.2 2120,621.2 2124,621.2 2128,621.3 2132,621.3 2136,621.3 2140,621.3 2144,621.4 2148,621.4 2152,621.4 2156,621.4 2160,621.5 2164,621.5 2168,621.5 2172,621.5 2176,621.6 2180,621.6 2184,621.6 2188,621.6 2192,621.6 2196,621.7 2200,621.7 2204,621.7 2208,621.7 2212,621.8 2216,621.8 2220,621.8 2224,621.8 2228,621.8 2232,621.9 2236,621.9 2240,621.9 2244,621.9 2248,621.9 2251,622" stroke="#ffff80" stroke-width="11"/>
<polyline points="500,891.5 1197,895.3 1292,896.4 1434,897.9 1553,899.6 1750,901.5" stroke="#000" stroke-width="4"/>
<polyline points="146,891.4 168,891.5 189,891.6 210.1,891.8 231.1,891.9 252.1,891.9 273.1,892 294.1,892.1 315.2,892.2 336.2,892.2 357.2,892.2 378.2,892.2 399.2,892.2 420.3,892.1 441.3,892 462.3,891.8 483.3,891.6 504.3,891.3 525.4,890.9 546.4,890.5 567.4,889.9 588.4,889.2 609.4,888.4 630.5,887.5 651.5,886.4 672,880.9 693,876.1 713.5,878.5 735,877.3 755,872.1 776.4,870.9 797.8,864.7 819,863.6 840.5,863.1 862,856.4 883,856.4 903.4,848.8 923.6,842.9 945,842.4 966.3,846.5 987.7,838.2 1009,834.1 1030,830.6 1052,829.1 1070.8,823.4 1092,824.4 1113.5,824.4 1134.9,820.4 1156,822.7 1175,814.4 1197,820.7 1218.4,808.8 1239.7,816.4 1261,814.1 1281,807.6 1302.6,809.3 1324,803.6 1344,805.3 1365.5,794.1 1387,784.6 1408,789.4 1428.4,775.1 1448.6,766.6 1470,768 1491,758.3 1513,758.3 1534,755.4 1555.4,763 1577,757.1 1598,755.9 1619.5,763.7 1638.5,775.1 1660,783.9 1681,799.3 1702.6,810 1722,825.7 1765,849.8 1786,856.2 1806.6,866.3 1828,870.5 1849.5,877.2 1872,877.7 1891,884.8 1912.6,888.4 1936.4,890.8 1955.5,889.1 1974.6,887.9 1986.5,892 2010,894 2038.8,897.9 2059.8,898.5 2080.8,899 2101.9,899.4 2122.9,899.9 2143.9,900.3 2164.9,900.6 2185.9,900.9 2207,901.3 2228,901.6 2251,901.9" stroke="#000" stroke-width="2.7"/>
<polyline points="146,891.1 148,891.1 152,891.1 156,891.1 160,891.1 164,891.1 168,891.2 172,891.2 176,891.2 180,891.2 184,891.2 188,891.2 192,891.3 196,891.3 200,891.3 204,891.3 208,891.3 212,891.3 216,891.3 220,891.4 224,891.4 228,891.4 232,891.4 236,891.4 240,891.4 244,891.4 248,891.5 252,891.5 256,891.5 260,891.5 264,891.5 268,891.5 272,891.5 276,891.6 280,891.6 284,891.6 288,891.6 292,891.6 296,891.6 300,891.6 304,891.7 308,891.7 312,891.7 316,891.7 320,891.7 324,891.7 328,891.7 332,891.7 336,891.8 340,891.8 344,891.8 348,891.8 352,891.8 356,891.8 360,891.8 364,891.8 368,891.8 372,891.9 376,891.9 380,891.9 384,891.9 388,891.9 392,891.9 396,891.9 400,891.9 404,891.9 408,891.9 412,891.9 416,892 420,892 424,892 428,892 432,892 436,892 440,892 444,892 448,892 452,892 456,892 460,892 464,892 468,892 472,892 476,892 480,892 484,892 488,892 492,892 496,892 500,892 504,892 508,892 512,892 516,892 520,892 524,892 528,892 532,892 536,891.9 540,891.9 544,891.9 548,891.9 552,891.9 556,891.9 560,891.9 564,891.8 568,891.8 572,891.8 576,891.8 580,891.8 584,891.7 588,891.7 592,891.7 596,891.7 600,891.6 604,891.6 608,891.6 612,891.6 616,891.5 620,891.5 624,891.5 628,891.4 632,891.4 636,891.3 640,891.3 644,891.3 648,891.2 652,891.2 656,891.1 660,891.1 664,891 668,891 672,890.9 676,890.8 680,890.8 684,890.7 688,890.7 692,890.6 696,890.5 700,890.5 704,890.4 708,890.3 712,890.2 716,890.1 720,890.1 724,890 728,889.9 732,889.8 736,889.7 740,889.6 744,889.5 748,889.4 752,889.3 756,889.2 760,889.1 764,889 768,888.9 772,888.8 776,888.7 780,888.6 784,888.4 788,888.3 792,888.2 796,888.1 800,887.9 804,887.8 808,887.7 812,887.5 816,887.4 820,887.2 824,887.1 828,886.9 832,886.8 836,886.6 840,886.5 844,886.3 848,886.1 852,886 856,885.8 860,885.7 864,885.5 868,885.3 872,885.1 876,885 880,884.8 884,884.6 888,884.4 892,884.2 896,884 900,883.8 904,883.7 908,883.5 912,883.3 916,883.1 920,882.9 924,882.7 928,882.5 932,882.3 936,882.1 940,881.9 944,881.7 948,881.5 952,881.3 956,881.1 960,880.9 964,880.6 968,880.4 972,880.2 976,880 980,879.8 984,879.6 988,879.4 992,879.2 996,879 1000,878.8 1004,878.6 1008,878.4 1012,878.2 1016,878 1020,877.8 1024,877.6 1028,877.4 1032,877.2 1036,877.1 1040,876.9 1044,876.7 1048,876.5 1052,876.4 1056,876.2 1060,876 1064,875.9 1068,875.7 1072,875.6 1076,875.4 1080,875.3 1084,875.2 1088,875 1092,874.9 1096,874.8 1100,874.7 1104,874.6 1108,874.5 1112,874.4 1116,874.3 1120,874.2 1124,874.1 1128,874.1 1132,874 1136,874 1140,873.9 1144,873.9 1148,873.9 1152,873.9 1156,873.8 1160,873.8 1164,873.9 1168,873.9 1172,873.9 1176,873.9 1180,874 1184,874 1188,874 1192,874.1 1196,874.1 1200,874.2 1204,874.3 1208,874.3 1212,874.4 1216,874.5 1220,874.5 1224,874.6 1228,874.7 1232,874.8 1236,874.9 1240,875 1244,875.1 1248,875.2 1252,875.4 1256,875.5 1260,875.6 1264,875.7 1268,875.9 1272,876 1276,876.1 1280,876.3 1284,876.4 1288,876.6 1292,876.7 1296,876.9 1300,877 1304,877.2 1308,877.4 1312,877.5 1316,877.7 1320,877.9 1324,878 1328,878.2 1332,878.4 1336,878.6 1340,878.7 1344,878.9 1348,879.1 1352,879.3 1356,879.5 1360,879.7 1364,879.9 1368,880.1 1372,880.2 1376,880.4 1380,880.6 1384,880.8 1388,881 1392,881.2 1396,881.4 1400,881.6 1404,881.8 1408,882 1412,882.2 1416,882.4 1420,882.6 1424,882.8 1428,883 1432,883.2 1436,883.4 1440,883.6 1444,883.8 1448,884 1452,884.2 1456,884.4 1460,884.6 1464,884.8 1468,885 1472,885.2 1476,885.4 1480,885.6 1484,885.8 1488,886 1492,886.2 1496,886.4 1500,886.5 1504,886.7 1508,886.9 1512,887.1 1516,887.3 1520,887.5 1524,887.7 1528,887.8 1532,888 1536,888.2 1540,888.4 1544,888.6 1548,888.7 1552,888.9 1556,889.1 1560,889.3 1564,889.4 1568,889.6 1572,889.8 1576,889.9 1580,890.1 1584,890.3 1588,890.4 1592,890.6 1596,890.7 1600,890.9 1604,891.1 1608,891.2 1612,891.4 1616,891.5 1620,891.7 1624,891.8 1628,892 1632,892.1 1636,892.2 1640,892.4 1644,892.5 1648,892.7 1652,892.8 1656,892.9 1660,893.1 1664,893.2 1668,893.3 1672,893.5 1676,893.6 1680,893.7 1684,893.8 1688,894 1692,894.1 1696,894.2 1700,894.3 1704,894.4 1708,894.6 1712,894.7 1716,894.8 1720,894.9 1724,895 1728,895.1 1732,895.2 1736,895.3 1740,895.4 1744,895.5 1748,895.6 1752,895.7 1756,895.8 1760,895.9 1764,896 1768,896.1 1772,896.2 1776,896.3 1780,896.4 1784,896.5 1788,896.5 1792,896.6 1796,896.7 1800,896.8 1804,896.9 1808,897 1812,897 1816,897.1 1820,897.2 1824,897.3 1828,897.3 1832,897.4 1836,897.5 1840,897.6 1844,897.6 1848,897.7 1852,897.8 1856,897.8 1860,897.9 1864,898 1868,898 1872,898.1 1876,898.2 1880,898.2 1884,898.3 1888,898.4 1892,898.4 1896,898.5 1900,898.5 1904,898.6 1908,898.6 1912,898.7 1916,898.8 1920,898.8 1924,898.9 1928,898.9 1932,899 1936,899 1940,899.1 1944,899.1 1948,899.2 1952,899.2 1956,899.3 1960,899.3 1964,899.4 1968,899.4 1972,899.5 1976,899.5 1980,899.5 1984,899.6 1988,899.6 1992,899.7 1996,899.7 2000,899.8 2004,899.8 2008,899.8 2012,899.9 2016,899.9 2020,900 2024,900 2028,900 2032,900.1 2036,900.1 2040,900.2 2044,900.2 2048,900.2 2052,900.3 2056,900.3 2060,900.3 2064,900.4 2068,900.4 2072,900.5 2076,900.5 2080,900.5 2084,900.6 2088,900.6 2092,900.6 2096,900.7 2100,900.7 2104,900.7 2108,900.8 2112,900.8 2116,900.8 2120,900.9 2124,900.9 2128,900.9 2132,901 2136,901 2140,901 2144,901.1 2148,901.1 2152,901.1 2156,901.1 2160,901.2 2164,901.2 2168,901.2 2172,901.3 2176,901.3 2180,901.3 2184,901.4 2188,901.4 2192,901.4 2196,901.4 2200,901.5 2204,901.5 2208,901.5 2212,901.6 2216,901.6 2220,901.6 2224,901.6 2228,901.7 2232,901.7 2236,901.7 2240,901.8 2244,901.8 2248,901.8 2251,901.8" stroke="#ffff80" stroke-width="11"/>
<polyline points="146,891.7 148,891.7 152,891.7 156,891.8 160,891.8 164,891.8 168,891.8 172,891.8 176,891.8 180,891.9 184,891.9 188,891.9 192,891.9 196,891.9 200,892 204,892 208,892 212,892 216,892 220,892 224,892.1 228,892.1 232,892.1 236,892.1 240,892.1 244,892.2 248,892.2 252,892.2 256,892.2 260,892.2 264,892.2 268,892.3 272,892.3 276,892.3 280,892.3 284,892.3 288,892.4 292,892.4 296,892.4 300,892.4 304,892.4 308,892.4 312,892.5 316,892.5 320,892.5 324,892.5 328,892.5 332,892.5 336,892.6 340,892.6 344,892.6 348,892.6 352,892.6 356,892.6 360,892.7 364,892.7 368,892.7 372,892.7 376,892.7 380,892.7 384,892.8 388,892.8 392,892.8 396,892.8 400,892.8 404,892.8 408,892.9 412,892.9 416,892.9 420,892.9 424,892.9 428,892.9 432,893 436,893 440,893 444,893 448,893 452,893 456,893.1 460,893.1 464,893.1 468,893.1 472,893.1 476,893.1 480,893.1 484,893.2 488,893.2 492,893.2 496,893.2 500,893.2 504,893.2 508,893.2 512,893.3 516,893.3 520,893.3 524,893.3 528,893.3 532,893.3 536,893.3 540,893.4 544,893.4 548,893.4 552,893.4 556,893.4 560,893.4 564,893.4 568,893.5 572,893.5 576,893.5 580,893.5 584,893.5 588,893.5 592,893.5 596,893.5 600,893.6 604,893.6 608,893.6 612,893.6 616,893.6 620,893.6 624,893.6 628,893.6 632,893.6 636,893.7 640,893.7 644,893.7 648,893.7 652,893.7 656,893.7 660,893.7 664,893.7 668,893.7 672,893.7 676,893.8 680,893.8 684,893.8 688,893.8 692,893.8 696,893.8 700,893.8 704,893.8 708,893.8 712,893.8 716,893.8 720,893.9 724,893.9 728,893.9 732,893.9 736,893.9 740,893.9 744,893.9 748,893.9 752,893.9 756,893.9 760,893.9 764,893.9 768,893.9 772,893.9 776,893.9 780,893.9 784,894 788,894 792,894 796,894 800,894 804,894 808,894 812,894 816,894 820,894 824,894 828,894 832,894 836,894 840,894 844,894 848,894 852,894 856,894 860,894 864,894 868,894 872,894 876,894 880,894 884,894 888,894 892,894 896,894 900,893.9 904,893.9 908,893.9 912,893.9 916,893.9 920,893.9 924,893.9 928,893.9 932,893.9 936,893.9 940,893.9 944,893.9 948,893.9 952,893.8 956,893.8 960,893.8 964,893.8 968,893.8 972,893.8 976,893.8 980,893.7 984,893.7 988,893.7 992,893.7 996,893.7 1000,893.7 1004,893.6 1008,893.6 1012,893.6 1016,893.6 1020,893.5 1024,893.5 1028,893.5 1032,893.5 1036,893.4 1040,893.4 1044,893.4 1048,893.4 1052,893.3 1056,893.3 1060,893.3 1064,893.2 1068,893.2 1072,893.2 1076,893.1 1080,893.1 1084,893 1088,893 1092,893 1096,892.9 1100,892.9 1104,892.8 1108,892.8 1112,892.7 1116,892.7 1120,892.6 1124,892.6 1128,892.5 1132,892.4 1136,892.4 1140,892.3 1144,892.3 1148,892.2 1152,892.1 1156,892 1160,892 1164,891.9 1168,891.8 1172,891.7 1176,891.6 1180,891.5 1184,891.4 1188,891.3 1192,891.2 1196,891.1 1200,891 1204,890.9 1208,890.8 1212,890.6 1216,890.5 1220,890.4 1224,890.2 1228,890.1 1232,889.9 1236,889.8 1240,889.6 1244,889.4 1248,889.2 1252,889 1256,888.8 1260,888.6 1264,888.4 1268,888.2 1272,888 1276,887.7 1280,887.4 1284,887.2 1288,886.9 1292,886.6 1296,886.3 1300,886 1304,885.6 1308,885.3 1312,884.9 1316,884.6 1320,884.2 1324,883.8 1328,883.3 1332,882.9 1336,882.4 1340,882 1344,881.5 1348,880.9 1352,880.4 1356,879.9 1360,879.3 1364,878.7 1368,878.1 1372,877.4 1376,876.7 1380,876.1 1384,875.3 1388,874.6 1392,873.8 1396,873 1400,872.2 1404,871.4 1408,870.5 1412,869.6 1416,868.7 1420,867.8 1424,866.8 1428,865.8 1432,864.8 1436,863.7 1440,862.6 1444,861.5 1448,860.4 1452,859.2 1456,858 1460,856.8 1464,855.6 1468,854.3 1472,853 1476,851.7 1480,850.4 1484,849.1 1488,847.7 1492,846.3 1496,844.9 1500,843.5 1504,842.1 1508,840.6 1512,839.2 1516,837.7 1520,836.3 1524,834.8 1528,833.3 1532,831.9 1536,830.4 1540,829 1544,827.6 1548,826.2 1552,824.8 1556,823.5 1560,822.1 1564,820.9 1568,819.6 1572,818.5 1576,817.3 1580,816.2 1584,815.2 1588,814.3 1592,813.4 1596,812.6 1600,811.9 1604,811.2 1608,810.7 1612,810.2 1616,809.9 1620,809.6 1624,809.4 1628,809.4 1632,809.4 1636,809.6 1640,810 1644,810.5 1648,811.1 1652,811.9 1656,812.8 1660,813.9 1664,815.1 1668,816.4 1672,817.7 1676,819.2 1680,820.8 1684,822.4 1688,824.1 1692,825.9 1696,827.7 1700,829.5 1704,831.3 1708,833.2 1712,835.1 1716,837 1720,838.9 1724,840.8 1728,842.6 1732,844.5 1736,846.3 1740,848.1 1744,849.9 1748,851.7 1752,853.4 1756,855.1 1760,856.7 1764,858.4 1768,859.9 1772,861.5 1776,863 1780,864.4 1784,865.8 1788,867.2 1792,868.5 1796,869.8 1800,871 1804,872.2 1808,873.4 1812,874.5 1816,875.6 1820,876.6 1824,877.6 1828,878.6 1832,879.5 1836,880.4 1840,881.2 1844,882 1848,882.8 1852,883.5 1856,884.2 1860,884.9 1864,885.6 1868,886.2 1872,886.8 1876,887.3 1880,887.9 1884,888.4 1888,888.9 1892,889.4 1896,889.8 1900,890.2 1904,890.6 1908,891 1912,891.4 1916,891.7 1920,892.1 1924,892.4 1928,892.7 1932,893 1936,893.3 1940,893.6 1944,893.8 1948,894.1 1952,894.3 1956,894.6 1960,894.8 1964,895 1968,895.2 1972,895.4 1976,895.6 1980,895.8 1984,895.9 1988,896.1 1992,896.3 1996,896.4 2000,896.6 2004,896.7 2008,896.9 2012,897 2016,897.2 2020,897.3 2024,897.4 2028,897.6 2032,897.7 2036,897.8 2040,897.9 2044,898 2048,898.1 2052,898.2 2056,898.4 2060,898.5 2064,898.6 2068,898.7 2072,898.8 2076,898.9 2080,899 2084,899 2088,899.1 2092,899.2 2096,899.3 2100,899.4 2104,899.5 2108,899.6 2112,899.6 2116,899.7 2120,899.8 2124,899.9 2128,900 2132,900 2136,900.1 2140,900.2 2144,900.3 2148,900.3 2152,900.4 2156,900.5 2160,900.5 2164,900.6 2168,900.7 2172,900.7 2176,900.8 2180,900.9 2184,900.9 2188,901 2192,901 2196,901.1 2200,901.2 2204,901.2 2208,901.3 2212,901.3 2216,901.4 2220,901.4 2224,901.5 2228,901.6 2232,901.6 2236,901.7 2240,901.7 2244,901.8 2248,901.8 2251,901.9" stroke="#808080" stroke-width="11"/>
<polyline points="146,888.6 148,888.6 152,888.7 156,888.7 160,888.7 164,888.7 168,888.8 172,888.8 176,888.8 180,888.8 184,888.8 188,888.9 192,888.9 196,888.9 200,888.9 204,889 208,889 212,889 216,889 220,889 224,889.1 228,889.1 232,889.1 236,889.1 240,889.2 244,889.2 248,889.2 252,889.2 256,889.2 260,889.3 264,889.3 268,889.3 272,889.3 276,889.4 280,889.4 284,889.4 288,889.4 292,889.5 296,889.5 300,889.5 304,889.5 308,889.5 312,889.6 316,889.6 320,889.6 324,889.6 328,889.7 332,889.7 336,889.7 340,889.7 344,889.7 348,889.8 352,889.8 356,889.8 360,889.8 364,889.8 368,889.9 372,889.9 376,889.9 380,889.9 384,890 388,890 392,890 396,890 400,890 404,890.1 408,890.1 412,890.1 416,890.1 420,890.2 424,890.2 428,890.2 432,890.2 436,890.2 440,890.3 444,890.3 448,890.3 452,890.3 456,890.3 460,890.4 464,890.4 468,890.4 472,890.4 476,890.4 480,890.5 484,890.5 488,890.5 492,890.5 496,890.5 500,890.6 504,890.6 508,890.6 512,890.6 516,890.7 520,890.7 524,890.7 528,890.7 532,890.7 536,890.8 540,890.8 544,890.8 548,890.8 552,890.8 556,890.9 560,890.9 564,890.9 568,890.9 572,890.9 576,891 580,891 584,891 588,891 592,891 596,891 600,891.1 604,891.1 608,891.1 612,891.1 616,891.1 620,891.2 624,891.2 628,891.2 632,891.2 636,891.2 640,891.3 644,891.3 648,891.3 652,891.3 656,891.3 660,891.3 664,891.4 668,891.4 672,891.4 676,891.4 680,891.4 684,891.5 688,891.5 692,891.5 696,891.5 700,891.5 704,891.5 708,891.6 712,891.6 716,891.6 720,891.6 724,891.6 728,891.6 732,891.6 736,891.7 740,891.7 744,891.7 748,891.7 752,891.7 756,891.7 760,891.8 764,891.8 768,891.8 772,891.8 776,891.8 780,891.8 784,891.8 788,891.9 792,891.9 796,891.9 800,891.9 804,891.9 808,891.9 812,891.9 816,891.9 820,892 824,892 828,892 832,892 836,892 840,892 844,892 848,892 852,892 856,892.1 860,892.1 864,892.1 868,892.1 872,892.1 876,892.1 880,892.1 884,892.1 888,892.1 892,892.1 896,892.1 900,892.1 904,892.2 908,892.2 912,892.2 916,892.2 920,892.2 924,892.2 928,892.2 932,892.2 936,892.2 940,892.2 944,892.2 948,892.2 952,892.2 956,892.2 960,892.2 964,892.2 968,892.2 972,892.2 976,892.1 980,892.1 984,892.1 988,892.1 992,892.1 996,892.1 1000,892.1 1004,892.1 1008,892 1012,892 1016,892 1020,892 1024,891.9 1028,891.9 1032,891.9 1036,891.8 1040,891.8 1044,891.8 1048,891.7 1052,891.7 1056,891.6 1060,891.6 1064,891.5 1068,891.4 1072,891.4 1076,891.3 1080,891.2 1084,891.1 1088,891.1 1092,891 1096,890.9 1100,890.7 1104,890.6 1108,890.5 1112,890.4 1116,890.2 1120,890.1 1124,889.9 1128,889.8 1132,889.6 1136,889.4 1140,889.2 1144,889 1148,888.8 1152,888.6 1156,888.3 1160,888.1 1164,887.8 1168,887.5 1172,887.2 1176,886.9 1180,886.6 1184,886.3 1188,885.9 1192,885.5 1196,885.1 1200,884.7 1204,884.3 1208,883.9 1212,883.4 1216,882.9 1220,882.4 1224,881.9 1228,881.4 1232,880.9 1236,880.3 1240,879.7 1244,879.1 1248,878.5 1252,877.8 1256,877.1 1260,876.5 1264,875.7 1268,875 1272,874.3 1276,873.5 1280,872.7 1284,871.9 1288,871.1 1292,870.3 1296,869.4 1300,868.6 1304,867.7 1308,866.8 1312,865.9 1316,865 1320,864 1324,863.1 1328,862.1 1332,861.2 1336,860.2 1340,859.3 1344,858.3 1348,857.3 1352,856.3 1356,855.4 1360,854.4 1364,853.4 1368,852.4 1372,851.5 1376,850.6 1380,849.6 1384,848.7 1388,847.8 1392,846.9 1396,846.1 1400,845.2 1404,844.4 1408,843.6 1412,842.9 1416,842.2 1420,841.5 1424,840.8 1428,840.2 1432,839.7 1436,839.1 1440,838.7 1444,838.3 1448,837.9 1452,837.6 1456,837.3 1460,837.1 1464,836.9 1468,836.8 1472,836.8 1476,836.8 1480,836.9 1484,837 1488,837.3 1492,837.6 1496,837.9 1500,838.4 1504,838.9 1508,839.4 1512,840.1 1516,840.8 1520,841.5 1524,842.3 1528,843.2 1532,844.1 1536,845 1540,846 1544,847 1548,848 1552,849.1 1556,850.2 1560,851.3 1564,852.4 1568,853.5 1572,854.7 1576,855.8 1580,857 1584,858.2 1588,859.3 1592,860.5 1596,861.7 1600,862.8 1604,864 1608,865.1 1612,866.2 1616,867.3 1620,868.4 1624,869.5 1628,870.6 1632,871.6 1636,872.6 1640,873.6 1644,874.6 1648,875.5 1652,876.5 1656,877.4 1660,878.3 1664,879.1 1668,879.9 1672,880.7 1676,881.5 1680,882.3 1684,883 1688,883.7 1692,884.4 1696,885 1700,885.7 1704,886.3 1708,886.8 1712,887.4 1716,887.9 1720,888.5 1724,888.9 1728,889.4 1732,889.9 1736,890.3 1740,890.7 1744,891.1 1748,891.5 1752,891.8 1756,892.1 1760,892.5 1764,892.8 1768,893.1 1772,893.3 1776,893.6 1780,893.8 1784,894.1 1788,894.3 1792,894.5 1796,894.7 1800,894.9 1804,895.1 1808,895.3 1812,895.4 1816,895.6 1820,895.7 1824,895.9 1828,896 1832,896.2 1836,896.3 1840,896.4 1844,896.5 1848,896.6 1852,896.7 1856,896.8 1860,896.9 1864,897 1868,897.1 1872,897.2 1876,897.3 1880,897.3 1884,897.4 1888,897.5 1892,897.6 1896,897.6 1900,897.7 1904,897.8 1908,897.8 1912,897.9 1916,898 1920,898 1924,898.1 1928,898.1 1932,898.2 1936,898.2 1940,898.3 1944,898.4 1948,898.4 1952,898.5 1956,898.5 1960,898.6 1964,898.6 1968,898.7 1972,898.7 1976,898.7 1980,898.8 1984,898.8 1988,898.9 1992,898.9 1996,899 2000,899 2004,899.1 2008,899.1 2012,899.1 2016,899.2 2020,899.2 2024,899.3 2028,899.3 2032,899.3 2036,899.4 2040,899.4 2044,899.5 2048,899.5 2052,899.5 2056,899.6 2060,899.6 2064,899.7 2068,899.7 2072,899.7 2076,899.8 2080,899.8 2084,899.8 2088,899.9 2092,899.9 2096,900 2100,900 2104,900 2108,900.1 2112,900.1 2116,900.1 2120,900.2 2124,900.2 2128,900.2 2132,900.3 2136,900.3 2140,900.3 2144,900.4 2148,900.4 2152,900.4 2156,900.5 2160,900.5 2164,900.5 2168,900.6 2172,900.6 2176,900.6 2180,900.7 2184,900.7 2188,900.7 2192,900.8 2196,900.8 2200,900.8 2204,900.9 2208,900.9 2212,900.9 2216,901 2220,901 2224,901 2228,901 2232,901.1 2236,901.1 2240,901.1 2244,901.2 2248,901.2 2251,901.2" stroke="#ff00ff" stroke-width="11"/>
<polyline points="146,891.4 148,891.4 152,891.4 156,891.5 160,891.5 164,891.5 168,891.5 172,891.6 176,891.6 180,891.6 184,891.6 188,891.6 192,891.7 196,891.7 200,891.7 204,891.7 208,891.7 212,891.8 216,891.8 220,891.8 224,891.8 228,891.8 232,891.9 236,891.9 240,891.9 244,891.9 248,891.9 252,891.9 256,892 260,892 264,892 268,892 272,892 276,892 280,892.1 284,892.1 288,892.1 292,892.1 296,892.1 300,892.1 304,892.1 308,892.1 312,892.2 316,892.2 320,892.2 324,892.2 328,892.2 332,892.2 336,892.2 340,892.2 344,892.2 348,892.2 352,892.2 356,892.2 360,892.2 364,892.2 368,892.2 372,892.2 376,892.2 380,892.2 384,892.2 388,892.2 392,892.2 396,892.2 400,892.2 404,892.2 408,892.2 412,892.2 416,892.1 420,892.1 424,892.1 428,892.1 432,892.1 436,892 440,892 444,892 448,892 452,891.9 456,891.9 460,891.9 464,891.8 468,891.8 472,891.7 476,891.7 480,891.7 484,891.6 488,891.6 492,891.5 496,891.4 500,891.4 504,891.3 508,891.3 512,891.2 516,891.1 520,891 524,891 528,890.9 532,890.8 536,890.7 540,890.6 544,890.5 548,890.4 552,890.3 556,890.2 560,890.1 564,890 568,889.9 572,889.8 576,889.6 580,889.5 584,889.4 588,889.2 592,889.1 596,888.9 600,888.8 604,888.6 608,888.5 612,888.3 616,888.1 620,887.9 624,887.8 628,887.6 632,887.4 636,887.2 640,887 644,886.8 648,886.6 652,886.4 656,886.1 660,885.9 664,885.7 668,885.4 672,885.2 676,884.9 680,884.7 684,884.4 688,884.2 692,883.9 696,883.6 700,883.3 704,883.1 708,882.8 712,882.5 716,882.2 720,881.8 724,881.5 728,881.2 732,880.9 736,880.6 740,880.2 744,879.9 748,879.5 752,879.2 756,878.8 760,878.5 764,878.1 768,877.7 772,877.3 776,877 780,876.6 784,876.2 788,875.8 792,875.4 796,875 800,874.6 804,874.2 808,873.7 812,873.3 816,872.9 820,872.5 824,872 828,871.6 832,871.2 836,870.7 840,870.3 844,869.8 848,869.4 852,869 856,868.5 860,868.1 864,867.6 868,867.2 872,866.7 876,866.2 880,865.8 884,865.3 888,864.9 892,864.4 896,864 900,863.5 904,863.1 908,862.6 912,862.2 916,861.7 920,861.3 924,860.8 928,860.4 932,860 936,859.5 940,859.1 944,858.7 948,858.2 952,857.8 956,857.4 960,857 964,856.6 968,856.2 972,855.8 976,855.4 980,855 984,854.6 988,854.3 992,853.9 996,853.6 1000,853.2 1004,852.9 1008,852.5 1012,852.2 1016,851.9 1020,851.6 1024,851.3 1028,851 1032,850.7 1036,850.5 1040,850.2 1044,849.9 1048,849.7 1052,849.5 1056,849.3 1060,849 1064,848.9 1068,848.7 1072,848.5 1076,848.3 1080,848.2 1084,848 1088,847.9 1092,847.8 1096,847.7 1100,847.6 1104,847.5 1108,847.4 1112,847.4 1116,847.3 1120,847.3 1124,847.3 1128,847.3 1132,847.3 1136,847.3 1140,847.3 1144,847.3 1148,847.4 1152,847.5 1156,847.6 1160,847.7 1164,847.8 1168,847.9 1172,848.1 1176,848.3 1180,848.5 1184,848.7 1188,848.9 1192,849.1 1196,849.3 1200,849.6 1204,849.9 1208,850.2 1212,850.4 1216,850.8 1220,851.1 1224,851.4 1228,851.8 1232,852.1 1236,852.5 1240,852.9 1244,853.3 1248,853.7 1252,854.1 1256,854.5 1260,855 1264,855.4 1268,855.9 1272,856.3 1276,856.8 1280,857.3 1284,857.8 1288,858.3 1292,858.8 1296,859.3 1300,859.8 1304,860.3 1308,860.8 1312,861.4 1316,861.9 1320,862.5 1324,863 1328,863.5 1332,864.1 1336,864.6 1340,865.2 1344,865.8 1348,866.3 1352,866.9 1356,867.4 1360,868 1364,868.6 1368,869.1 1372,869.7 1376,870.2 1380,870.8 1384,871.4 1388,871.9 1392,872.5 1396,873 1400,873.6 1404,874.1 1408,874.7 1412,875.2 1416,875.7 1420,876.3 1424,876.8 1428,877.3 1432,877.8 1436,878.3 1440,878.9 1444,879.4 1448,879.9 1452,880.3 1456,880.8 1460,881.3 1464,881.8 1468,882.3 1472,882.7 1476,883.2 1480,883.6 1484,884.1 1488,884.5 1492,884.9 1496,885.4 1500,885.8 1504,886.2 1508,886.6 1512,887 1516,887.4 1520,887.8 1524,888.1 1528,888.5 1532,888.9 1536,889.2 1540,889.6 1544,889.9 1548,890.2 1552,890.6 1556,890.9 1560,891.2 1564,891.5 1568,891.8 1572,892.1 1576,892.4 1580,892.7 1584,892.9 1588,893.2 1592,893.4 1596,893.7 1600,893.9 1604,894.2 1608,894.4 1612,894.7 1616,894.9 1620,895.1 1624,895.3 1628,895.5 1632,895.7 1636,895.9 1640,896.1 1644,896.3 1648,896.5 1652,896.6 1656,896.8 1660,897 1664,897.1 1668,897.3 1672,897.4 1676,897.6 1680,897.7 1684,897.9 1688,898 1692,898.1 1696,898.3 1700,898.4 1704,898.5 1708,898.6 1712,898.7 1716,898.8 1720,898.9 1724,899 1728,899.1 1732,899.2 1736,899.3 1740,899.4 1744,899.5 1748,899.6 1752,899.7 1756,899.8 1760,899.8 1764,899.9 1768,900 1772,900.1 1776,900.1 1780,900.2 1784,900.3 1788,900.3 1792,900.4 1796,900.4 1800,900.5 1804,900.6 1808,900.6 1812,900.7 1816,900.7 1820,900.8 1824,900.8 1828,900.9 1832,900.9 1836,901 1840,901 1844,901.1 1848,901.1 1852,901.1 1856,901.2 1860,901.2 1864,901.3 1868,901.3 1872,901.3 1876,901.4 1880,901.4 1884,901.5 1888,901.5 1892,901.5 1896,901.6 1900,901.6 1904,901.6 1908,901.7 1912,901.7 1916,901.7 1920,901.7 1924,901.8 1928,901.8 1932,901.8 1936,901.9 1940,901.9 1944,901.9 1948,902 1952,902 1956,902 1960,902 1964,902.1 1968,902.1 1972,902.1 1976,902.1 1980,902.2 1984,902.2 1988,902.2 1992,902.3 1996,902.3 2000,902.3 2004,902.3 2008,902.4 2012,902.4 2016,902.4 2020,902.4 2024,902.5 2028,902.5 2032,902.5 2036,902.5 2040,902.6 2044,902.6 2048,902.6 2052,902.6 2056,902.7 2060,902.7 2064,902.7 2068,902.7 2072,902.8 2076,902.8 2080,902.8 2084,902.8 2088,902.8 2092,902.9 2096,902.9 2100,902.9 2104,902.9 2108,903 2112,903 2116,903 2120,903 2124,903.1 2128,903.1 2132,903.1 2136,903.1 2140,903.2 2144,903.2 2148,903.2 2152,903.2 2156,903.3 2160,903.3 2164,903.3 2168,903.3 2172,903.3 2176,903.4 2180,903.4 2184,903.4 2188,903.4 2192,903.5 2196,903.5 2200,903.5 2204,903.5 2208,903.6 2212,903.6 2216,903.6 2220,903.6 2224,903.7 2228,903.7 2232,903.7 2236,903.7 2240,903.7 2244,903.8 2248,903.8 2251,903.8" stroke="#0000ff" stroke-width="11"/>
<polyline points="500,1190 1380,1194.5 1570,1197 1750,1199" stroke="#00f" stroke-width="3"/>
<polyline points="146,1185.3 168,1185.4 189,1185.6 210.1,1185.7 231.1,1185.8 252.1,1186 273.1,1186.1 294.1,1186.2 315.2,1186.4 336.2,1186.5 357.2,1186.6 378.2,1186.8 399.2,1186.9 420.3,1187 441.3,1187.1 462.3,1187.3 483.3,1187.4 504.3,1187.5 525.4,1187.6 546.4,1187.7 567.4,1187.8 588.4,1187.9 609.4,1188.1 630.5,1188.2 651.5,1188.3 672.5,1188.4 693.4,1176.8 714.7,1178.5 736,1174.9 756.3,1171.9 777.6,1170.2 799,1170.9 819.2,1168.5 840.5,1160.2 862,1160.2 880.9,1162.6 902.2,1153.6 923.6,1153.1 945,1150.5 966.3,1148.1 987.7,1142.9 1009,1140.5 1028,1142.9 1049.4,1138.2 1070.8,1135.1 1092,1130.3 1113.5,1128.7 1134.9,1131 1156,1125.1 1177.6,1124.4 1197,1120.2 1218.4,1116.8 1239.7,1116.8 1261,1109.7 1280,1103.8 1302.6,1103.3 1324,1099.7 1344,1087.1 1365.5,1077.6 1387,1063.4 1408,1056.3 1428.4,1043.2 1448.6,1030.9 1472.3,1023.8 1491,1027.1 1513,1026.1 1534,1031.4 1555.4,1040.9 1577,1046.1 1598,1064.6 1617,1083.6 1638.5,1093.6 1660,1114.4 1681,1134.6 1702.6,1140.5 1722,1157.3 1745.8,1161 1765,1170.5 1786,1175.8 1807.8,1177.2 1828,1186 1849.5,1184.1 1869.7,1189.6 1891,1187.9 1910,1191.5 1936.4,1192 1954.3,1189.6 1969.8,1192.5 1996.8,1196.7 2017.8,1197 2038.8,1197.2 2059.8,1197.5 2080.8,1197.7 2101.9,1198 2122.9,1198.2 2143.9,1198.4 2164.9,1198.7 2185.9,1198.9 2207,1199.1 2228,1199.3 2251,1199.5" stroke="#000" stroke-width="2.7"/>
<polyline points="146,1189 148,1189 152,1189 156,1189 160,1189 164,1189.1 168,1189.1 172,1189.1 176,1189.1 180,1189.1 184,1189.1 188,1189.1 192,1189.1 196,1189.1 200,1189.2 204,1189.2 208,1189.2 212,1189.2 216,1189.2 220,1189.2 224,1189.2 228,1189.2 232,1189.2 236,1189.2 240,1189.3 244,1189.3 248,1189.3 252,1189.3 256,1189.3 260,1189.3 264,1189.3 268,1189.3 272,1189.3 276,1189.3 280,1189.3 284,1189.4 288,1189.4 292,1189.4 296,1189.4 300,1189.4 304,1189.4 308,1189.4 312,1189.4 316,1189.4 320,1189.4 324,1189.4 328,1189.4 332,1189.4 336,1189.4 340,1189.5 344,1189.5 348,1189.5 352,1189.5 356,1189.5 360,1189.5 364,1189.5 368,1189.5 372,1189.5 376,1189.5 380,1189.5 384,1189.5 388,1189.5 392,1189.5 396,1189.5 400,1189.5 404,1189.5 408,1189.5 412,1189.5 416,1189.5 420,1189.5 424,1189.5 428,1189.5 432,1189.5 436,1189.5 440,1189.5 444,1189.5 448,1189.5 452,1189.5 456,1189.5 460,1189.5 464,1189.5 468,1189.5 472,1189.5 476,1189.5 480,1189.5 484,1189.5 488,1189.5 492,1189.5 496,1189.5 500,1189.5 504,1189.5 508,1189.5 512,1189.4 516,1189.4 520,1189.4 524,1189.4 528,1189.4 532,1189.4 536,1189.4 540,1189.4 544,1189.4 548,1189.3 552,1189.3 556,1189.3 560,1189.3 564,1189.3 568,1189.3 572,1189.2 576,1189.2 580,1189.2 584,1189.2 588,1189.2 592,1189.1 596,1189.1 600,1189.1 604,1189.1 608,1189 612,1189 616,1189 620,1189 624,1188.9 628,1188.9 632,1188.9 636,1188.8 640,1188.8 644,1188.7 648,1188.7 652,1188.7 656,1188.6 660,1188.6 664,1188.5 668,1188.5 672,1188.4 676,1188.4 680,1188.3 684,1188.3 688,1188.2 692,1188.2 696,1188.1 700,1188.1 704,1188 708,1187.9 712,1187.9 716,1187.8 720,1187.7 724,1187.7 728,1187.6 732,1187.5 736,1187.5 740,1187.4 744,1187.3 748,1187.2 752,1187.1 756,1187 760,1187 764,1186.9 768,1186.8 772,1186.7 776,1186.6 780,1186.5 784,1186.4 788,1186.3 792,1186.2 796,1186 800,1185.9 804,1185.8 808,1185.7 812,1185.6 816,1185.4 820,1185.3 824,1185.2 828,1185.1 832,1184.9 836,1184.8 840,1184.6 844,1184.5 848,1184.3 852,1184.2 856,1184 860,1183.9 864,1183.7 868,1183.6 872,1183.4 876,1183.2 880,1183 884,1182.9 888,1182.7 892,1182.5 896,1182.3 900,1182.1 904,1182 908,1181.8 912,1181.6 916,1181.4 920,1181.2 924,1181 928,1180.7 932,1180.5 936,1180.3 940,1180.1 944,1179.9 948,1179.7 952,1179.4 956,1179.2 960,1179 964,1178.7 968,1178.5 972,1178.3 976,1178 980,1177.8 984,1177.5 988,1177.3 992,1177 996,1176.8 1000,1176.5 1004,1176.2 1008,1176 1012,1175.7 1016,1175.5 1020,1175.2 1024,1174.9 1028,1174.7 1032,1174.4 1036,1174.1 1040,1173.9 1044,1173.6 1048,1173.3 1052,1173.1 1056,1172.8 1060,1172.5 1064,1172.2 1068,1172 1072,1171.7 1076,1171.4 1080,1171.2 1084,1170.9 1088,1170.7 1092,1170.4 1096,1170.1 1100,1169.9 1104,1169.6 1108,1169.4 1112,1169.2 1116,1168.9 1120,1168.7 1124,1168.5 1128,1168.2 1132,1168 1136,1167.8 1140,1167.6 1144,1167.4 1148,1167.2 1152,1167 1156,1166.8 1160,1166.7 1164,1166.5 1168,1166.4 1172,1166.2 1176,1166.1 1180,1165.9 1184,1165.8 1188,1165.7 1192,1165.6 1196,1165.5 1200,1165.5 1204,1165.4 1208,1165.4 1212,1165.3 1216,1165.3 1220,1165.3 1224,1165.3 1228,1165.3 1232,1165.3 1236,1165.3 1240,1165.4 1244,1165.4 1248,1165.5 1252,1165.7 1256,1165.8 1260,1165.9 1264,1166.1 1268,1166.3 1272,1166.5 1276,1166.7 1280,1167 1284,1167.3 1288,1167.5 1292,1167.8 1296,1168.1 1300,1168.4 1304,1168.8 1308,1169.1 1312,1169.4 1316,1169.8 1320,1170.2 1324,1170.5 1328,1170.9 1332,1171.3 1336,1171.7 1340,1172.1 1344,1172.5 1348,1172.9 1352,1173.3 1356,1173.7 1360,1174.1 1364,1174.5 1368,1174.9 1372,1175.4 1376,1175.8 1380,1176.2 1384,1176.6 1388,1177 1392,1177.4 1396,1177.8 1400,1178.2 1404,1178.6 1408,1179 1412,1179.4 1416,1179.7 1420,1180.1 1424,1180.5 1428,1180.9 1432,1181.2 1436,1181.6 1440,1181.9 1444,1182.3 1448,1182.6 1452,1183 1456,1183.3 1460,1183.6 1464,1184 1468,1184.3 1472,1184.6 1476,1184.9 1480,1185.2 1484,1185.5 1488,1185.8 1492,1186.1 1496,1186.4 1500,1186.6 1504,1186.9 1508,1187.2 1512,1187.4 1516,1187.7 1520,1187.9 1524,1188.2 1528,1188.4 1532,1188.6 1536,1188.9 1540,1189.1 1544,1189.3 1548,1189.5 1552,1189.7 1556,1189.9 1560,1190.1 1564,1190.3 1568,1190.5 1572,1190.7 1576,1190.8 1580,1191 1584,1191.2 1588,1191.3 1592,1191.5 1596,1191.7 1600,1191.8 1604,1192 1608,1192.1 1612,1192.3 1616,1192.4 1620,1192.5 1624,1192.7 1628,1192.8 1632,1192.9 1636,1193 1640,1193.1 1644,1193.3 1648,1193.4 1652,1193.5 1656,1193.6 1660,1193.7 1664,1193.8 1668,1193.9 1672,1194 1676,1194.1 1680,1194.2 1684,1194.3 1688,1194.4 1692,1194.5 1696,1194.5 1700,1194.6 1704,1194.7 1708,1194.8 1712,1194.9 1716,1194.9 1720,1195 1724,1195.1 1728,1195.2 1732,1195.2 1736,1195.3 1740,1195.4 1744,1195.4 1748,1195.5 1752,1195.6 1756,1195.6 1760,1195.7 1764,1195.7 1768,1195.8 1772,1195.9 1776,1195.9 1780,1196 1784,1196 1788,1196.1 1792,1196.1 1796,1196.2 1800,1196.2 1804,1196.3 1808,1196.3 1812,1196.4 1816,1196.4 1820,1196.5 1824,1196.5 1828,1196.6 1832,1196.6 1836,1196.7 1840,1196.7 1844,1196.8 1848,1196.8 1852,1196.9 1856,1196.9 1860,1196.9 1864,1197 1868,1197 1872,1197.1 1876,1197.1 1880,1197.1 1884,1197.2 1888,1197.2 1892,1197.3 1896,1197.3 1900,1197.3 1904,1197.4 1908,1197.4 1912,1197.5 1916,1197.5 1920,1197.5 1924,1197.6 1928,1197.6 1932,1197.6 1936,1197.7 1940,1197.7 1944,1197.8 1948,1197.8 1952,1197.8 1956,1197.9 1960,1197.9 1964,1197.9 1968,1198 1972,1198 1976,1198 1980,1198.1 1984,1198.1 1988,1198.1 1992,1198.2 1996,1198.2 2000,1198.2 2004,1198.3 2008,1198.3 2012,1198.3 2016,1198.4 2020,1198.4 2024,1198.4 2028,1198.5 2032,1198.5 2036,1198.5 2040,1198.6 2044,1198.6 2048,1198.6 2052,1198.6 2056,1198.7 2060,1198.7 2064,1198.7 2068,1198.8 2072,1198.8 2076,1198.8 2080,1198.9 2084,1198.9 2088,1198.9 2092,1198.9 2096,1199 2100,1199 2104,1199 2108,1199.1 2112,1199.1 2116,1199.1 2120,1199.1 2124,1199.2 2128,1199.2 2132,1199.2 2136,1199.3 2140,1199.3 2144,1199.3 2148,1199.3 2152,1199.4 2156,1199.4 2160,1199.4 2164,1199.5 2168,1199.5 2172,1199.5 2176,1199.5 2180,1199.6 2184,1199.6 2188,1199.6 2192,1199.6 2196,1199.7 2200,1199.7 2204,1199.7 2208,1199.8 2212,1199.8 2216,1199.8 2220,1199.8 2224,1199.9 2228,1199.9 2232,1199.9 2236,1199.9 2240,1200 2244,1200 2248,1200 2251,1200" stroke="#ffff80" stroke-width="11"/>
<polyline points="146,1189.3 148,1189.3 152,1189.4 156,1189.4 160,1189.4 164,1189.4 168,1189.4 172,1189.5 176,1189.5 180,1189.5 184,1189.5 188,1189.5 192,1189.6 196,1189.6 200,1189.6 204,1189.6 208,1189.6 212,1189.6 216,1189.7 220,1189.7 224,1189.7 228,1189.7 232,1189.7 236,1189.8 240,1189.8 244,1189.8 248,1189.8 252,1189.8 256,1189.8 260,1189.9 264,1189.9 268,1189.9 272,1189.9 276,1189.9 280,1190 284,1190 288,1190 292,1190 296,1190 300,1190.1 304,1190.1 308,1190.1 312,1190.1 316,1190.1 320,1190.1 324,1190.2 328,1190.2 332,1190.2 336,1190.2 340,1190.2 344,1190.2 348,1190.3 352,1190.3 356,1190.3 360,1190.3 364,1190.3 368,1190.4 372,1190.4 376,1190.4 380,1190.4 384,1190.4 388,1190.4 392,1190.5 396,1190.5 400,1190.5 404,1190.5 408,1190.5 412,1190.6 416,1190.6 420,1190.6 424,1190.6 428,1190.6 432,1190.6 436,1190.7 440,1190.7 444,1190.7 448,1190.7 452,1190.7 456,1190.7 460,1190.8 464,1190.8 468,1190.8 472,1190.8 476,1190.8 480,1190.9 484,1190.9 488,1190.9 492,1190.9 496,1190.9 500,1190.9 504,1191 508,1191 512,1191 516,1191 520,1191 524,1191 528,1191.1 532,1191.1 536,1191.1 540,1191.1 544,1191.1 548,1191.1 552,1191.2 556,1191.2 560,1191.2 564,1191.2 568,1191.2 572,1191.2 576,1191.3 580,1191.3 584,1191.3 588,1191.3 592,1191.3 596,1191.3 600,1191.4 604,1191.4 608,1191.4 612,1191.4 616,1191.4 620,1191.4 624,1191.5 628,1191.5 632,1191.5 636,1191.5 640,1191.5 644,1191.5 648,1191.6 652,1191.6 656,1191.6 660,1191.6 664,1191.6 668,1191.6 672,1191.6 676,1191.7 680,1191.7 684,1191.7 688,1191.7 692,1191.7 696,1191.7 700,1191.8 704,1191.8 708,1191.8 712,1191.8 716,1191.8 720,1191.8 724,1191.8 728,1191.9 732,1191.9 736,1191.9 740,1191.9 744,1191.9 748,1191.9 752,1191.9 756,1192 760,1192 764,1192 768,1192 772,1192 776,1192 780,1192 784,1192.1 788,1192.1 792,1192.1 796,1192.1 800,1192.1 804,1192.1 808,1192.1 812,1192.1 816,1192.2 820,1192.2 824,1192.2 828,1192.2 832,1192.2 836,1192.2 840,1192.2 844,1192.2 848,1192.3 852,1192.3 856,1192.3 860,1192.3 864,1192.3 868,1192.3 872,1192.3 876,1192.3 880,1192.3 884,1192.4 888,1192.4 892,1192.4 896,1192.4 900,1192.4 904,1192.4 908,1192.4 912,1192.4 916,1192.4 920,1192.4 924,1192.5 928,1192.5 932,1192.5 936,1192.5 940,1192.5 944,1192.5 948,1192.5 952,1192.5 956,1192.5 960,1192.5 964,1192.5 968,1192.5 972,1192.5 976,1192.6 980,1192.6 984,1192.6 988,1192.6 992,1192.6 996,1192.6 1000,1192.6 1004,1192.6 1008,1192.6 1012,1192.6 1016,1192.6 1020,1192.6 1024,1192.6 1028,1192.6 1032,1192.6 1036,1192.6 1040,1192.6 1044,1192.6 1048,1192.6 1052,1192.6 1056,1192.6 1060,1192.6 1064,1192.6 1068,1192.6 1072,1192.6 1076,1192.6 1080,1192.6 1084,1192.6 1088,1192.6 1092,1192.6 1096,1192.6 1100,1192.6 1104,1192.6 1108,1192.6 1112,1192.6 1116,1192.6 1120,1192.6 1124,1192.5 1128,1192.5 1132,1192.5 1136,1192.5 1140,1192.5 1144,1192.5 1148,1192.5 1152,1192.5 1156,1192.4 1160,1192.4 1164,1192.4 1168,1192.4 1172,1192.4 1176,1192.4 1180,1192.3 1184,1192.3 1188,1192.3 1192,1192.3 1196,1192.2 1200,1192.2 1204,1192.2 1208,1192.2 1212,1192.1 1216,1192.1 1220,1192.1 1224,1192 1228,1192 1232,1192 1236,1191.9 1240,1191.9 1244,1191.8 1248,1191.8 1252,1191.8 1256,1191.7 1260,1191.7 1264,1191.6 1268,1191.5 1272,1191.5 1276,1191.4 1280,1191.4 1284,1191.3 1288,1191.2 1292,1191.2 1296,1191.1 1300,1191 1304,1190.9 1308,1190.8 1312,1190.7 1316,1190.6 1320,1190.5 1324,1190.4 1328,1190.3 1332,1190.2 1336,1190.1 1340,1189.9 1344,1189.8 1348,1189.7 1352,1189.5 1356,1189.3 1360,1189.2 1364,1189 1368,1188.8 1372,1188.6 1376,1188.4 1380,1188.1 1384,1187.9 1388,1187.6 1392,1187.3 1396,1187 1400,1186.7 1404,1186.4 1408,1186.1 1412,1185.7 1416,1185.3 1420,1184.9 1424,1184.4 1428,1184 1432,1183.5 1436,1182.9 1440,1182.4 1444,1181.8 1448,1181.2 1452,1180.5 1456,1179.9 1460,1179.1 1464,1178.4 1468,1177.6 1472,1176.7 1476,1175.9 1480,1175 1484,1174 1488,1173 1492,1172 1496,1170.9 1500,1169.8 1504,1168.6 1508,1167.4 1512,1166.1 1516,1164.9 1520,1163.5 1524,1162.2 1528,1160.8 1532,1159.4 1536,1157.9 1540,1156.4 1544,1155 1548,1153.5 1552,1152 1556,1150.4 1560,1149 1564,1147.5 1568,1146 1572,1144.6 1576,1143.3 1580,1142 1584,1140.8 1588,1139.6 1592,1138.6 1596,1137.7 1600,1136.9 1604,1136.2 1608,1135.7 1612,1135.4 1616,1135.2 1620,1135.1 1624,1135.3 1628,1135.6 1632,1136.2 1636,1137 1640,1137.9 1644,1139 1648,1140.2 1652,1141.6 1656,1143.1 1660,1144.7 1664,1146.3 1668,1148 1672,1149.7 1676,1151.5 1680,1153.3 1684,1155 1688,1156.8 1692,1158.5 1696,1160.2 1700,1161.9 1704,1163.5 1708,1165.1 1712,1166.6 1716,1168.1 1720,1169.5 1724,1170.9 1728,1172.2 1732,1173.5 1736,1174.7 1740,1175.9 1744,1177 1748,1178 1752,1179 1756,1180 1760,1180.9 1764,1181.7 1768,1182.5 1772,1183.3 1776,1184 1780,1184.7 1784,1185.3 1788,1185.9 1792,1186.5 1796,1187 1800,1187.5 1804,1188 1808,1188.4 1812,1188.9 1816,1189.3 1820,1189.6 1824,1190 1828,1190.3 1832,1190.6 1836,1190.9 1840,1191.2 1844,1191.4 1848,1191.7 1852,1191.9 1856,1192.2 1860,1192.4 1864,1192.6 1868,1192.8 1872,1192.9 1876,1193.1 1880,1193.3 1884,1193.4 1888,1193.6 1892,1193.8 1896,1193.9 1900,1194 1904,1194.2 1908,1194.3 1912,1194.4 1916,1194.5 1920,1194.6 1924,1194.8 1928,1194.9 1932,1195 1936,1195.1 1940,1195.2 1944,1195.3 1948,1195.4 1952,1195.5 1956,1195.5 1960,1195.6 1964,1195.7 1968,1195.8 1972,1195.9 1976,1196 1980,1196 1984,1196.1 1988,1196.2 1992,1196.2 1996,1196.3 2000,1196.4 2004,1196.5 2008,1196.5 2012,1196.6 2016,1196.6 2020,1196.7 2024,1196.8 2028,1196.8 2032,1196.9 2036,1196.9 2040,1197 2044,1197.1 2048,1197.1 2052,1197.2 2056,1197.2 2060,1197.3 2064,1197.3 2068,1197.4 2072,1197.4 2076,1197.5 2080,1197.5 2084,1197.6 2088,1197.6 2092,1197.7 2096,1197.7 2100,1197.8 2104,1197.8 2108,1197.8 2112,1197.9 2116,1197.9 2120,1198 2124,1198 2128,1198.1 2132,1198.1 2136,1198.1 2140,1198.2 2144,1198.2 2148,1198.2 2152,1198.3 2156,1198.3 2160,1198.4 2164,1198.4 2168,1198.4 2172,1198.5 2176,1198.5 2180,1198.5 2184,1198.6 2188,1198.6 2192,1198.7 2196,1198.7 2200,1198.7 2204,1198.8 2208,1198.8 2212,1198.8 2216,1198.9 2220,1198.9 2224,1198.9 2228,1199 2232,1199 2236,1199 2240,1199.1 2244,1199.1 2248,1199.1 2251,1199.1" stroke="#808080" stroke-width="11"/>
<polyline points="146,1188 148,1188.1 152,1188.1 156,1188.1 160,1188.1 164,1188.2 168,1188.2 172,1188.2 176,1188.2 180,1188.2 184,1188.3 188,1188.3 192,1188.3 196,1188.3 200,1188.3 204,1188.4 208,1188.4 212,1188.4 216,1188.4 220,1188.4 224,1188.5 228,1188.5 232,1188.5 236,1188.5 240,1188.5 244,1188.6 248,1188.6 252,1188.6 256,1188.6 260,1188.6 264,1188.6 268,1188.7 272,1188.7 276,1188.7 280,1188.7 284,1188.7 288,1188.7 292,1188.7 296,1188.8 300,1188.8 304,1188.8 308,1188.8 312,1188.8 316,1188.8 320,1188.8 324,1188.8 328,1188.8 332,1188.8 336,1188.8 340,1188.8 344,1188.8 348,1188.9 352,1188.9 356,1188.9 360,1188.9 364,1188.9 368,1188.9 372,1188.9 376,1188.9 380,1188.8 384,1188.8 388,1188.8 392,1188.8 396,1188.8 400,1188.8 404,1188.8 408,1188.8 412,1188.8 416,1188.8 420,1188.7 424,1188.7 428,1188.7 432,1188.7 436,1188.7 440,1188.6 444,1188.6 448,1188.6 452,1188.6 456,1188.5 460,1188.5 464,1188.5 468,1188.4 472,1188.4 476,1188.4 480,1188.3 484,1188.3 488,1188.2 492,1188.2 496,1188.1 500,1188.1 504,1188 508,1188 512,1187.9 516,1187.9 520,1187.8 524,1187.7 528,1187.7 532,1187.6 536,1187.5 540,1187.5 544,1187.4 548,1187.3 552,1187.2 556,1187.1 560,1187.1 564,1187 568,1186.9 572,1186.8 576,1186.7 580,1186.6 584,1186.5 588,1186.4 592,1186.3 596,1186.1 600,1186 604,1185.9 608,1185.8 612,1185.7 616,1185.5 620,1185.4 624,1185.3 628,1185.1 632,1185 636,1184.8 640,1184.7 644,1184.5 648,1184.4 652,1184.2 656,1184 660,1183.9 664,1183.7 668,1183.5 672,1183.3 676,1183.2 680,1183 684,1182.8 688,1182.6 692,1182.4 696,1182.2 700,1182 704,1181.8 708,1181.6 712,1181.4 716,1181.1 720,1180.9 724,1180.7 728,1180.5 732,1180.2 736,1180 740,1179.8 744,1179.5 748,1179.3 752,1179 756,1178.8 760,1178.5 764,1178.3 768,1178 772,1177.7 776,1177.5 780,1177.2 784,1176.9 788,1176.7 792,1176.4 796,1176.1 800,1175.8 804,1175.5 808,1175.2 812,1174.9 816,1174.6 820,1174.3 824,1174 828,1173.7 832,1173.4 836,1173.1 840,1172.8 844,1172.5 848,1172.2 852,1171.9 856,1171.6 860,1171.3 864,1171 868,1170.7 872,1170.3 876,1170 880,1169.7 884,1169.4 888,1169.1 892,1168.7 896,1168.4 900,1168.1 904,1167.8 908,1167.5 912,1167.2 916,1166.8 920,1166.5 924,1166.2 928,1165.9 932,1165.6 936,1165.3 940,1165 944,1164.7 948,1164.4 952,1164.1 956,1163.8 960,1163.5 964,1163.2 968,1162.9 972,1162.6 976,1162.3 980,1162.1 984,1161.8 988,1161.5 992,1161.2 996,1161 1000,1160.7 1004,1160.5 1008,1160.2 1012,1160 1016,1159.7 1020,1159.5 1024,1159.3 1028,1159 1032,1158.8 1036,1158.6 1040,1158.4 1044,1158.2 1048,1158 1052,1157.8 1056,1157.6 1060,1157.5 1064,1157.3 1068,1157.1 1072,1157 1076,1156.9 1080,1156.7 1084,1156.6 1088,1156.5 1092,1156.4 1096,1156.3 1100,1156.2 1104,1156.1 1108,1156 1112,1155.9 1116,1155.9 1120,1155.8 1124,1155.8 1128,1155.7 1132,1155.7 1136,1155.7 1140,1155.7 1144,1155.7 1148,1155.7 1152,1155.7 1156,1155.7 1160,1155.8 1164,1155.8 1168,1155.9 1172,1156 1176,1156.1 1180,1156.2 1184,1156.3 1188,1156.4 1192,1156.6 1196,1156.8 1200,1156.9 1204,1157.1 1208,1157.3 1212,1157.6 1216,1157.8 1220,1158 1224,1158.3 1228,1158.5 1232,1158.8 1236,1159.1 1240,1159.4 1244,1159.7 1248,1160 1252,1160.4 1256,1160.7 1260,1161.1 1264,1161.4 1268,1161.8 1272,1162.1 1276,1162.5 1280,1162.9 1284,1163.3 1288,1163.7 1292,1164.1 1296,1164.5 1300,1165 1304,1165.4 1308,1165.8 1312,1166.2 1316,1166.7 1320,1167.1 1324,1167.6 1328,1168 1332,1168.5 1336,1168.9 1340,1169.4 1344,1169.8 1348,1170.3 1352,1170.8 1356,1171.2 1360,1171.7 1364,1172.2 1368,1172.6 1372,1173.1 1376,1173.5 1380,1174 1384,1174.5 1388,1174.9 1392,1175.4 1396,1175.8 1400,1176.3 1404,1176.8 1408,1177.2 1412,1177.7 1416,1178.1 1420,1178.5 1424,1179 1428,1179.4 1432,1179.8 1436,1180.3 1440,1180.7 1444,1181.1 1448,1181.5 1452,1181.9 1456,1182.3 1460,1182.7 1464,1183.1 1468,1183.5 1472,1183.9 1476,1184.3 1480,1184.7 1484,1185 1488,1185.4 1492,1185.8 1496,1186.1 1500,1186.5 1504,1186.8 1508,1187.2 1512,1187.5 1516,1187.8 1520,1188.1 1524,1188.4 1528,1188.8 1532,1189.1 1536,1189.4 1540,1189.7 1544,1189.9 1548,1190.2 1552,1190.5 1556,1190.8 1560,1191 1564,1191.3 1568,1191.5 1572,1191.8 1576,1192 1580,1192.3 1584,1192.5 1588,1192.7 1592,1193 1596,1193.2 1600,1193.4 1604,1193.6 1608,1193.8 1612,1194 1616,1194.2 1620,1194.4 1624,1194.5 1628,1194.7 1632,1194.9 1636,1195.1 1640,1195.2 1644,1195.4 1648,1195.6 1652,1195.7 1656,1195.9 1660,1196 1664,1196.1 1668,1196.3 1672,1196.4 1676,1196.6 1680,1196.7 1684,1196.8 1688,1196.9 1692,1197 1696,1197.2 1700,1197.3 1704,1197.4 1708,1197.5 1712,1197.6 1716,1197.7 1720,1197.8 1724,1197.9 1728,1198 1732,1198.1 1736,1198.2 1740,1198.2 1744,1198.3 1748,1198.4 1752,1198.5 1756,1198.6 1760,1198.6 1764,1198.7 1768,1198.8 1772,1198.9 1776,1198.9 1780,1199 1784,1199.1 1788,1199.1 1792,1199.2 1796,1199.3 1800,1199.3 1804,1199.4 1808,1199.4 1812,1199.5 1816,1199.5 1820,1199.6 1824,1199.7 1828,1199.7 1832,1199.8 1836,1199.8 1840,1199.9 1844,1199.9 1848,1200 1852,1200 1856,1200.1 1860,1200.1 1864,1200.1 1868,1200.2 1872,1200.2 1876,1200.3 1880,1200.3 1884,1200.4 1888,1200.4 1892,1200.4 1896,1200.5 1900,1200.5 1904,1200.6 1908,1200.6 1912,1200.7 1916,1200.7 1920,1200.7 1924,1200.8 1928,1200.8 1932,1200.8 1936,1200.9 1940,1200.9 1944,1201 1948,1201 1952,1201 1956,1201.1 1960,1201.1 1964,1201.1 1968,1201.2 1972,1201.2 1976,1201.2 1980,1201.3 1984,1201.3 1988,1201.3 1992,1201.4 1996,1201.4 2000,1201.4 2004,1201.5 2008,1201.5 2012,1201.5 2016,1201.6 2020,1201.6 2024,1201.6 2028,1201.7 2032,1201.7 2036,1201.7 2040,1201.8 2044,1201.8 2048,1201.8 2052,1201.9 2056,1201.9 2060,1201.9 2064,1202 2068,1202 2072,1202 2076,1202.1 2080,1202.1 2084,1202.1 2088,1202.2 2092,1202.2 2096,1202.2 2100,1202.3 2104,1202.3 2108,1202.3 2112,1202.4 2116,1202.4 2120,1202.4 2124,1202.4 2128,1202.5 2132,1202.5 2136,1202.5 2140,1202.6 2144,1202.6 2148,1202.6 2152,1202.7 2156,1202.7 2160,1202.7 2164,1202.8 2168,1202.8 2172,1202.8 2176,1202.9 2180,1202.9 2184,1202.9 2188,1202.9 2192,1203 2196,1203 2200,1203 2204,1203.1 2208,1203.1 2212,1203.1 2216,1203.2 2220,1203.2 2224,1203.2 2228,1203.3 2232,1203.3 2236,1203.3 2240,1203.3 2244,1203.4 2248,1203.4 2251,1203.4" stroke="#0000ff" stroke-width="11"/>
<polyline points="146,1185.3 148,1185.3 152,1185.3 156,1185.4 160,1185.4 164,1185.4 168,1185.4 172,1185.5 176,1185.5 180,1185.5 184,1185.6 188,1185.6 192,1185.6 196,1185.6 200,1185.7 204,1185.7 208,1185.7 212,1185.7 216,1185.8 220,1185.8 224,1185.8 228,1185.8 232,1185.9 236,1185.9 240,1185.9 244,1185.9 248,1186 252,1186 256,1186 260,1186 264,1186.1 268,1186.1 272,1186.1 276,1186.1 280,1186.2 284,1186.2 288,1186.2 292,1186.2 296,1186.3 300,1186.3 304,1186.3 308,1186.3 312,1186.4 316,1186.4 320,1186.4 324,1186.4 328,1186.5 332,1186.5 336,1186.5 340,1186.5 344,1186.6 348,1186.6 352,1186.6 356,1186.6 360,1186.6 364,1186.7 368,1186.7 372,1186.7 376,1186.7 380,1186.8 384,1186.8 388,1186.8 392,1186.8 396,1186.9 400,1186.9 404,1186.9 408,1186.9 412,1187 416,1187 420,1187 424,1187 428,1187.1 432,1187.1 436,1187.1 440,1187.1 444,1187.1 448,1187.2 452,1187.2 456,1187.2 460,1187.2 464,1187.3 468,1187.3 472,1187.3 476,1187.3 480,1187.4 484,1187.4 488,1187.4 492,1187.4 496,1187.4 500,1187.5 504,1187.5 508,1187.5 512,1187.5 516,1187.6 520,1187.6 524,1187.6 528,1187.6 532,1187.6 536,1187.7 540,1187.7 544,1187.7 548,1187.7 552,1187.8 556,1187.8 560,1187.8 564,1187.8 568,1187.8 572,1187.9 576,1187.9 580,1187.9 584,1187.9 588,1187.9 592,1188 596,1188 600,1188 604,1188 608,1188 612,1188.1 616,1188.1 620,1188.1 624,1188.1 628,1188.1 632,1188.2 636,1188.2 640,1188.2 644,1188.2 648,1188.2 652,1188.3 656,1188.3 660,1188.3 664,1188.3 668,1188.3 672,1188.4 676,1188.4 680,1188.4 684,1188.4 688,1188.4 692,1188.4 696,1188.5 700,1188.5 704,1188.5 708,1188.5 712,1188.5 716,1188.5 720,1188.6 724,1188.6 728,1188.6 732,1188.6 736,1188.6 740,1188.6 744,1188.7 748,1188.7 752,1188.7 756,1188.7 760,1188.7 764,1188.7 768,1188.7 772,1188.8 776,1188.8 780,1188.8 784,1188.8 788,1188.8 792,1188.8 796,1188.8 800,1188.8 804,1188.9 808,1188.9 812,1188.9 816,1188.9 820,1188.9 824,1188.9 828,1188.9 832,1188.9 836,1188.9 840,1188.9 844,1189 848,1189 852,1189 856,1189 860,1189 864,1189 868,1189 872,1189 876,1189 880,1189 884,1189 888,1189 892,1189 896,1189 900,1189 904,1189 908,1189 912,1189 916,1189 920,1189 924,1189 928,1189 932,1189 936,1189 940,1189 944,1189 948,1189 952,1189 956,1189 960,1189 964,1189 968,1189 972,1189 976,1189 980,1188.9 984,1188.9 988,1188.9 992,1188.9 996,1188.9 1000,1188.9 1004,1188.9 1008,1188.8 1012,1188.8 1016,1188.8 1020,1188.8 1024,1188.8 1028,1188.7 1032,1188.7 1036,1188.7 1040,1188.7 1044,1188.6 1048,1188.6 1052,1188.6 1056,1188.5 1060,1188.5 1064,1188.4 1068,1188.4 1072,1188.3 1076,1188.3 1080,1188.2 1084,1188.2 1088,1188.1 1092,1188.1 1096,1188 1100,1187.9 1104,1187.8 1108,1187.7 1112,1187.7 1116,1187.6 1120,1187.5 1124,1187.3 1128,1187.2 1132,1187.1 1136,1187 1140,1186.8 1144,1186.7 1148,1186.5 1152,1186.3 1156,1186.1 1160,1185.9 1164,1185.7 1168,1185.4 1172,1185.2 1176,1184.9 1180,1184.6 1184,1184.3 1188,1183.9 1192,1183.6 1196,1183.2 1200,1182.7 1204,1182.3 1208,1181.8 1212,1181.3 1216,1180.7 1220,1180.1 1224,1179.5 1228,1178.8 1232,1178 1236,1177.3 1240,1176.4 1244,1175.6 1248,1174.6 1252,1173.6 1256,1172.6 1260,1171.5 1264,1170.3 1268,1169.1 1272,1167.8 1276,1166.4 1280,1165 1284,1163.5 1288,1161.9 1292,1160.3 1296,1158.5 1300,1156.8 1304,1154.9 1308,1152.9 1312,1150.9 1316,1148.9 1320,1146.7 1324,1144.5 1328,1142.2 1332,1139.8 1336,1137.4 1340,1134.9 1344,1132.4 1348,1129.8 1352,1127.1 1356,1124.4 1360,1121.7 1364,1118.9 1368,1116.1 1372,1113.3 1376,1110.5 1380,1107.6 1384,1104.8 1388,1101.9 1392,1099.1 1396,1096.3 1400,1093.5 1404,1090.8 1408,1088.2 1412,1085.6 1416,1083.1 1420,1080.7 1424,1078.3 1428,1076.1 1432,1074.1 1436,1072.1 1440,1070.4 1444,1068.8 1448,1067.3 1452,1066.1 1456,1065 1460,1064.2 1464,1063.5 1468,1063.1 1472,1062.8 1476,1062.8 1480,1063.1 1484,1063.6 1488,1064.3 1492,1065.3 1496,1066.6 1500,1068 1504,1069.7 1508,1071.6 1512,1073.7 1516,1075.9 1520,1078.3 1524,1080.8 1528,1083.5 1532,1086.3 1536,1089.2 1540,1092.1 1544,1095.1 1548,1098.2 1552,1101.3 1556,1104.4 1560,1107.6 1564,1110.7 1568,1113.9 1572,1117 1576,1120.1 1580,1123.2 1584,1126.2 1588,1129.2 1592,1132.1 1596,1135 1600,1137.8 1604,1140.5 1608,1143.2 1612,1145.8 1616,1148.3 1620,1150.7 1624,1153 1628,1155.2 1632,1157.4 1636,1159.5 1640,1161.5 1644,1163.4 1648,1165.2 1652,1166.9 1656,1168.6 1660,1170.1 1664,1171.6 1668,1173 1672,1174.3 1676,1175.6 1680,1176.8 1684,1177.9 1688,1179 1692,1180 1696,1180.9 1700,1181.8 1704,1182.6 1708,1183.4 1712,1184.1 1716,1184.8 1720,1185.4 1724,1186 1728,1186.5 1732,1187 1736,1187.5 1740,1188 1744,1188.4 1748,1188.8 1752,1189.2 1756,1189.5 1760,1189.8 1764,1190.1 1768,1190.4 1772,1190.7 1776,1190.9 1780,1191.2 1784,1191.4 1788,1191.6 1792,1191.8 1796,1192 1800,1192.2 1804,1192.4 1808,1192.5 1812,1192.7 1816,1192.8 1820,1193 1824,1193.1 1828,1193.2 1832,1193.4 1836,1193.5 1840,1193.6 1844,1193.7 1848,1193.8 1852,1193.9 1856,1194 1860,1194.1 1864,1194.2 1868,1194.3 1872,1194.4 1876,1194.5 1880,1194.6 1884,1194.7 1888,1194.8 1892,1194.9 1896,1195 1900,1195 1904,1195.1 1908,1195.2 1912,1195.3 1916,1195.4 1920,1195.4 1924,1195.5 1928,1195.6 1932,1195.6 1936,1195.7 1940,1195.8 1944,1195.8 1948,1195.9 1952,1196 1956,1196 1960,1196.1 1964,1196.2 1968,1196.2 1972,1196.3 1976,1196.4 1980,1196.4 1984,1196.5 1988,1196.5 1992,1196.6 1996,1196.7 2000,1196.7 2004,1196.8 2008,1196.8 2012,1196.9 2016,1196.9 2020,1197 2024,1197 2028,1197.1 2032,1197.1 2036,1197.2 2040,1197.2 2044,1197.3 2048,1197.3 2052,1197.4 2056,1197.4 2060,1197.5 2064,1197.5 2068,1197.6 2072,1197.6 2076,1197.7 2080,1197.7 2084,1197.8 2088,1197.8 2092,1197.9 2096,1197.9 2100,1198 2104,1198 2108,1198.1 2112,1198.1 2116,1198.1 2120,1198.2 2124,1198.2 2128,1198.3 2132,1198.3 2136,1198.4 2140,1198.4 2144,1198.4 2148,1198.5 2152,1198.5 2156,1198.6 2160,1198.6 2164,1198.7 2168,1198.7 2172,1198.7 2176,1198.8 2180,1198.8 2184,1198.9 2188,1198.9 2192,1198.9 2196,1199 2200,1199 2204,1199.1 2208,1199.1 2212,1199.1 2216,1199.2 2220,1199.2 2224,1199.3 2228,1199.3 2232,1199.3 2236,1199.4 2240,1199.4 2244,1199.4 2248,1199.5 2251,1199.5" stroke="#ff00ff" stroke-width="11"/>
<polyline points="500,1478 1300,1481 1390,1482.5 1440,1484 1500,1486 1600,1487.8 1750,1489" stroke="#00f" stroke-width="3"/>
<polyline points="146,1474.4 168,1474.5 189,1474.6 210.1,1474.7 231.1,1474.7 252.1,1474.7 273.1,1474.7 294.1,1474.7 315.2,1474.7 336.2,1474.6 357.2,1474.5 378.2,1474.4 399.2,1474.2 420.3,1474 441.3,1473.8 462.3,1473.5 483.3,1473.2 504.3,1472.8 525.4,1472.4 546.4,1472 567.4,1471.5 588.4,1470.9 609.4,1470.3 630.5,1469.7 651.5,1469 660,1460 672,1459.7 693.4,1454.4 714.7,1452.1 736,1449.7 756.3,1446.1 777.6,1446.1 799,1444.9 819.2,1444.5 840.5,1441.4 862,1436.6 878.5,1434.3 899.9,1438.3 921.2,1431.2 940.2,1430.7 961.6,1427.9 983,1425.5 1004.3,1424.8 1025.7,1426 1047,1418.1 1066,1419.5 1087.4,1417.2 1108.7,1410.5 1127.7,1408.2 1149,1401 1170.5,1395.1 1191.8,1392.7 1216,1374.7 1235,1368.1 1256,1357.4 1279,1343.2 1299,1338.4 1320,1320.1 1339,1313.5 1361,1301.6 1382,1301.1 1401,1297.3 1422.5,1297.3 1444,1299.2 1465,1309.9 1486.6,1330.1 1508,1336 1529,1358.6 1550.7,1365.7 1572,1386.6 1593,1396.6 1614.8,1409.6 1636,1421.5 1657.5,1432.2 1676.5,1436.4 1698,1446.4 1719,1452.3 1741,1454.3 1760,1463.1 1784,1463.1 1803,1469.1 1820,1469.6 1836,1472.7 1855,1475.8 1870.6,1486.7 1891.7,1486.9 1912.7,1487 1933.7,1487.2 1954.7,1487.3 1975.7,1487.5 1996.8,1487.6 2017.8,1487.8 2038.8,1487.9 2059.8,1488.1 2080.8,1488.2 2101.9,1488.4 2122.9,1488.5 2143.9,1488.7 2164.9,1488.8 2185.9,1489 2207,1489.1 2228,1489.3 2251,1489.4" stroke="#000" stroke-width="2.7"/>
<polyline points="146,1473.3 148,1473.3 152,1473.3 156,1473.3 160,1473.3 164,1473.3 168,1473.3 172,1473.3 176,1473.3 180,1473.3 184,1473.3 188,1473.3 192,1473.4 196,1473.4 200,1473.4 204,1473.4 208,1473.4 212,1473.4 216,1473.4 220,1473.4 224,1473.4 228,1473.4 232,1473.4 236,1473.4 240,1473.4 244,1473.4 248,1473.4 252,1473.3 256,1473.3 260,1473.3 264,1473.3 268,1473.3 272,1473.3 276,1473.3 280,1473.3 284,1473.3 288,1473.3 292,1473.2 296,1473.2 300,1473.2 304,1473.2 308,1473.2 312,1473.1 316,1473.1 320,1473.1 324,1473.1 328,1473.1 332,1473 336,1473 340,1473 344,1472.9 348,1472.9 352,1472.9 356,1472.8 360,1472.8 364,1472.8 368,1472.7 372,1472.7 376,1472.7 380,1472.6 384,1472.6 388,1472.5 392,1472.5 396,1472.4 400,1472.4 404,1472.3 408,1472.3 412,1472.2 416,1472.2 420,1472.1 424,1472 428,1472 432,1471.9 436,1471.9 440,1471.8 444,1471.7 448,1471.7 452,1471.6 456,1471.5 460,1471.4 464,1471.4 468,1471.3 472,1471.2 476,1471.1 480,1471 484,1470.9 488,1470.8 492,1470.7 496,1470.7 500,1470.6 504,1470.5 508,1470.4 512,1470.3 516,1470.1 520,1470 524,1469.9 528,1469.8 532,1469.7 536,1469.6 540,1469.5 544,1469.3 548,1469.2 552,1469.1 556,1469 560,1468.8 564,1468.7 568,1468.6 572,1468.4 576,1468.3 580,1468.2 584,1468 588,1467.9 592,1467.7 596,1467.6 600,1467.4 604,1467.3 608,1467.1 612,1466.9 616,1466.8 620,1466.6 624,1466.4 628,1466.3 632,1466.1 636,1465.9 640,1465.7 644,1465.6 648,1465.4 652,1465.2 656,1465 660,1464.8 664,1464.6 668,1464.4 672,1464.2 676,1464 680,1463.8 684,1463.6 688,1463.4 692,1463.2 696,1463 700,1462.8 704,1462.6 708,1462.4 712,1462.1 716,1461.9 720,1461.7 724,1461.5 728,1461.3 732,1461 736,1460.8 740,1460.6 744,1460.3 748,1460.1 752,1459.9 756,1459.6 760,1459.4 764,1459.1 768,1458.9 772,1458.6 776,1458.4 780,1458.2 784,1457.9 788,1457.7 792,1457.4 796,1457.1 800,1456.9 804,1456.6 808,1456.4 812,1456.1 816,1455.9 820,1455.6 824,1455.3 828,1455.1 832,1454.8 836,1454.6 840,1454.3 844,1454 848,1453.8 852,1453.5 856,1453.2 860,1453 864,1452.7 868,1452.4 872,1452.2 876,1451.9 880,1451.6 884,1451.4 888,1451.1 892,1450.8 896,1450.6 900,1450.3 904,1450 908,1449.8 912,1449.5 916,1449.3 920,1449 924,1448.7 928,1448.5 932,1448.2 936,1448 940,1447.7 944,1447.5 948,1447.2 952,1447 956,1446.7 960,1446.5 964,1446.2 968,1446 972,1445.7 976,1445.5 980,1445.3 984,1445 988,1444.8 992,1444.6 996,1444.3 1000,1444.1 1004,1443.9 1008,1443.7 1012,1443.4 1016,1443.2 1020,1443 1024,1442.8 1028,1442.6 1032,1442.4 1036,1442.2 1040,1442 1044,1441.8 1048,1441.6 1052,1441.4 1056,1441.3 1060,1441.1 1064,1440.9 1068,1440.7 1072,1440.6 1076,1440.4 1080,1440.2 1084,1440.1 1088,1439.9 1092,1439.8 1096,1439.6 1100,1439.5 1104,1439.4 1108,1439.2 1112,1439.1 1116,1439 1120,1438.9 1124,1438.8 1128,1438.7 1132,1438.6 1136,1438.5 1140,1438.4 1144,1438.3 1148,1438.2 1152,1438.1 1156,1438.1 1160,1438 1164,1437.9 1168,1437.9 1172,1437.8 1176,1437.8 1180,1437.7 1184,1437.7 1188,1437.7 1192,1437.7 1196,1437.6 1200,1437.6 1204,1437.6 1208,1437.6 1212,1437.6 1216,1437.6 1220,1437.6 1224,1437.6 1228,1437.7 1232,1437.7 1236,1437.7 1240,1437.8 1244,1437.9 1248,1437.9 1252,1438 1256,1438.1 1260,1438.2 1264,1438.4 1268,1438.5 1272,1438.6 1276,1438.8 1280,1438.9 1284,1439.1 1288,1439.3 1292,1439.5 1296,1439.7 1300,1439.9 1304,1440.1 1308,1440.4 1312,1440.6 1316,1440.9 1320,1441.1 1324,1441.4 1328,1441.7 1332,1442 1336,1442.3 1340,1442.6 1344,1442.9 1348,1443.2 1352,1443.6 1356,1443.9 1360,1444.2 1364,1444.6 1368,1445 1372,1445.3 1376,1445.7 1380,1446.1 1384,1446.5 1388,1446.8 1392,1447.2 1396,1447.6 1400,1448 1404,1448.5 1408,1448.9 1412,1449.3 1416,1449.7 1420,1450.1 1424,1450.6 1428,1451 1432,1451.4 1436,1451.9 1440,1452.3 1444,1452.7 1448,1453.2 1452,1453.6 1456,1454.1 1460,1454.5 1464,1455 1468,1455.4 1472,1455.9 1476,1456.3 1480,1456.8 1484,1457.2 1488,1457.7 1492,1458.1 1496,1458.5 1500,1459 1504,1459.4 1508,1459.9 1512,1460.3 1516,1460.8 1520,1461.2 1524,1461.6 1528,1462.1 1532,1462.5 1536,1462.9 1540,1463.3 1544,1463.7 1548,1464.2 1552,1464.6 1556,1465 1560,1465.4 1564,1465.8 1568,1466.2 1572,1466.6 1576,1467 1580,1467.4 1584,1467.8 1588,1468.1 1592,1468.5 1596,1468.9 1600,1469.2 1604,1469.6 1608,1470 1612,1470.3 1616,1470.6 1620,1471 1624,1471.3 1628,1471.7 1632,1472 1636,1472.3 1640,1472.6 1644,1472.9 1648,1473.2 1652,1473.5 1656,1473.8 1660,1474.1 1664,1474.4 1668,1474.7 1672,1475 1676,1475.2 1680,1475.5 1684,1475.8 1688,1476 1692,1476.3 1696,1476.5 1700,1476.8 1704,1477 1708,1477.2 1712,1477.5 1716,1477.7 1720,1477.9 1724,1478.1 1728,1478.3 1732,1478.5 1736,1478.7 1740,1478.9 1744,1479.1 1748,1479.3 1752,1479.5 1756,1479.7 1760,1479.8 1764,1480 1768,1480.2 1772,1480.3 1776,1480.5 1780,1480.6 1784,1480.8 1788,1480.9 1792,1481.1 1796,1481.2 1800,1481.4 1804,1481.5 1808,1481.6 1812,1481.8 1816,1481.9 1820,1482 1824,1482.1 1828,1482.2 1832,1482.3 1836,1482.4 1840,1482.6 1844,1482.7 1848,1482.8 1852,1482.9 1856,1483 1860,1483 1864,1483.1 1868,1483.2 1872,1483.3 1876,1483.4 1880,1483.5 1884,1483.6 1888,1483.6 1892,1483.7 1896,1483.8 1900,1483.9 1904,1483.9 1908,1484 1912,1484.1 1916,1484.1 1920,1484.2 1924,1484.3 1928,1484.3 1932,1484.4 1936,1484.4 1940,1484.5 1944,1484.6 1948,1484.6 1952,1484.7 1956,1484.7 1960,1484.8 1964,1484.8 1968,1484.9 1972,1484.9 1976,1485 1980,1485 1984,1485.1 1988,1485.1 1992,1485.1 1996,1485.2 2000,1485.2 2004,1485.3 2008,1485.3 2012,1485.4 2016,1485.4 2020,1485.4 2024,1485.5 2028,1485.5 2032,1485.5 2036,1485.6 2040,1485.6 2044,1485.7 2048,1485.7 2052,1485.7 2056,1485.8 2060,1485.8 2064,1485.8 2068,1485.9 2072,1485.9 2076,1485.9 2080,1486 2084,1486 2088,1486 2092,1486 2096,1486.1 2100,1486.1 2104,1486.1 2108,1486.2 2112,1486.2 2116,1486.2 2120,1486.3 2124,1486.3 2128,1486.3 2132,1486.3 2136,1486.4 2140,1486.4 2144,1486.4 2148,1486.5 2152,1486.5 2156,1486.5 2160,1486.5 2164,1486.6 2168,1486.6 2172,1486.6 2176,1486.6 2180,1486.7 2184,1486.7 2188,1486.7 2192,1486.8 2196,1486.8 2200,1486.8 2204,1486.8 2208,1486.9 2212,1486.9 2216,1486.9 2220,1486.9 2224,1487 2228,1487 2232,1487 2236,1487 2240,1487.1 2244,1487.1 2248,1487.1 2251,1487.1" stroke="#0000ff" stroke-width="11"/>
<polyline points="146,1474.2 148,1474.2 152,1474.2 156,1474.2 160,1474.3 164,1474.3 168,1474.3 172,1474.3 176,1474.4 180,1474.4 184,1474.4 188,1474.4 192,1474.5 196,1474.5 200,1474.5 204,1474.5 208,1474.5 212,1474.6 216,1474.6 220,1474.6 224,1474.6 228,1474.7 232,1474.7 236,1474.7 240,1474.7 244,1474.8 248,1474.8 252,1474.8 256,1474.8 260,1474.8 264,1474.9 268,1474.9 272,1474.9 276,1474.9 280,1475 284,1475 288,1475 292,1475 296,1475.1 300,1475.1 304,1475.1 308,1475.1 312,1475.1 316,1475.2 320,1475.2 324,1475.2 328,1475.2 332,1475.3 336,1475.3 340,1475.3 344,1475.3 348,1475.3 352,1475.4 356,1475.4 360,1475.4 364,1475.4 368,1475.5 372,1475.5 376,1475.5 380,1475.5 384,1475.5 388,1475.6 392,1475.6 396,1475.6 400,1475.6 404,1475.7 408,1475.7 412,1475.7 416,1475.7 420,1475.7 424,1475.8 428,1475.8 432,1475.8 436,1475.8 440,1475.8 444,1475.9 448,1475.9 452,1475.9 456,1475.9 460,1476 464,1476 468,1476 472,1476 476,1476 480,1476.1 484,1476.1 488,1476.1 492,1476.1 496,1476.1 500,1476.2 504,1476.2 508,1476.2 512,1476.2 516,1476.2 520,1476.3 524,1476.3 528,1476.3 532,1476.3 536,1476.3 540,1476.4 544,1476.4 548,1476.4 552,1476.4 556,1476.4 560,1476.4 564,1476.5 568,1476.5 572,1476.5 576,1476.5 580,1476.5 584,1476.6 588,1476.6 592,1476.6 596,1476.6 600,1476.6 604,1476.7 608,1476.7 612,1476.7 616,1476.7 620,1476.7 624,1476.7 628,1476.8 632,1476.8 636,1476.8 640,1476.8 644,1476.8 648,1476.8 652,1476.9 656,1476.9 660,1476.9 664,1476.9 668,1476.9 672,1476.9 676,1477 680,1477 684,1477 688,1477 692,1477 696,1477 700,1477 704,1477.1 708,1477.1 712,1477.1 716,1477.1 720,1477.1 724,1477.1 728,1477.1 732,1477.1 736,1477.2 740,1477.2 744,1477.2 748,1477.2 752,1477.2 756,1477.2 760,1477.2 764,1477.2 768,1477.3 772,1477.3 776,1477.3 780,1477.3 784,1477.3 788,1477.3 792,1477.3 796,1477.3 800,1477.3 804,1477.3 808,1477.3 812,1477.3 816,1477.4 820,1477.4 824,1477.4 828,1477.4 832,1477.4 836,1477.4 840,1477.4 844,1477.4 848,1477.4 852,1477.4 856,1477.4 860,1477.4 864,1477.4 868,1477.4 872,1477.4 876,1477.4 880,1477.4 884,1477.4 888,1477.4 892,1477.4 896,1477.4 900,1477.4 904,1477.4 908,1477.3 912,1477.3 916,1477.3 920,1477.3 924,1477.3 928,1477.3 932,1477.3 936,1477.2 940,1477.2 944,1477.2 948,1477.2 952,1477.1 956,1477.1 960,1477.1 964,1477 968,1477 972,1476.9 976,1476.9 980,1476.8 984,1476.8 988,1476.7 992,1476.6 996,1476.5 1000,1476.5 1004,1476.4 1008,1476.3 1012,1476.2 1016,1476 1020,1475.9 1024,1475.8 1028,1475.6 1032,1475.5 1036,1475.3 1040,1475.1 1044,1474.9 1048,1474.7 1052,1474.5 1056,1474.3 1060,1474 1064,1473.7 1068,1473.4 1072,1473.1 1076,1472.8 1080,1472.4 1084,1472 1088,1471.6 1092,1471.2 1096,1470.8 1100,1470.3 1104,1469.8 1108,1469.2 1112,1468.6 1116,1468 1120,1467.4 1124,1466.7 1128,1466 1132,1465.2 1136,1464.4 1140,1463.6 1144,1462.7 1148,1461.8 1152,1460.8 1156,1459.8 1160,1458.7 1164,1457.6 1168,1456.5 1172,1455.3 1176,1454 1180,1452.7 1184,1451.3 1188,1449.9 1192,1448.5 1196,1447 1200,1445.4 1204,1443.8 1208,1442.1 1212,1440.4 1216,1438.6 1220,1436.8 1224,1434.9 1228,1433 1232,1431.1 1236,1429.1 1240,1427 1244,1424.9 1248,1422.8 1252,1420.6 1256,1418.5 1260,1416.2 1264,1414 1268,1411.7 1272,1409.4 1276,1407.1 1280,1404.7 1284,1402.4 1288,1400 1292,1397.7 1296,1395.4 1300,1393 1304,1390.7 1308,1388.4 1312,1386.1 1316,1383.8 1320,1381.6 1324,1379.4 1328,1377.3 1332,1375.2 1336,1373.1 1340,1371.2 1344,1369.2 1348,1367.4 1352,1365.7 1356,1364 1360,1362.4 1364,1360.9 1368,1359.5 1372,1358.3 1376,1357.1 1380,1356.1 1384,1355.1 1388,1354.3 1392,1353.7 1396,1353.1 1400,1352.7 1404,1352.4 1408,1352.3 1412,1352.3 1416,1352.4 1420,1352.8 1424,1353.3 1428,1353.9 1432,1354.8 1436,1355.8 1440,1356.9 1444,1358.2 1448,1359.7 1452,1361.2 1456,1362.9 1460,1364.8 1464,1366.7 1468,1368.7 1472,1370.9 1476,1373.1 1480,1375.4 1484,1377.8 1488,1380.3 1492,1382.8 1496,1385.3 1500,1387.9 1504,1390.6 1508,1393.2 1512,1395.9 1516,1398.6 1520,1401.3 1524,1404 1528,1406.6 1532,1409.3 1536,1412 1540,1414.6 1544,1417.2 1548,1419.7 1552,1422.3 1556,1424.7 1560,1427.2 1564,1429.6 1568,1431.9 1572,1434.2 1576,1436.4 1580,1438.6 1584,1440.7 1588,1442.7 1592,1444.7 1596,1446.6 1600,1448.5 1604,1450.3 1608,1452 1612,1453.6 1616,1455.2 1620,1456.8 1624,1458.2 1628,1459.6 1632,1461 1636,1462.2 1640,1463.5 1644,1464.6 1648,1465.7 1652,1466.8 1656,1467.8 1660,1468.7 1664,1469.6 1668,1470.5 1672,1471.3 1676,1472 1680,1472.7 1684,1473.4 1688,1474.1 1692,1474.7 1696,1475.2 1700,1475.8 1704,1476.2 1708,1476.7 1712,1477.2 1716,1477.6 1720,1478 1724,1478.3 1728,1478.7 1732,1479 1736,1479.3 1740,1479.6 1744,1479.8 1748,1480.1 1752,1480.3 1756,1480.5 1760,1480.7 1764,1480.9 1768,1481.1 1772,1481.3 1776,1481.4 1780,1481.6 1784,1481.7 1788,1481.9 1792,1482 1796,1482.1 1800,1482.2 1804,1482.3 1808,1482.5 1812,1482.6 1816,1482.7 1820,1482.7 1824,1482.8 1828,1482.9 1832,1483 1836,1483.1 1840,1483.2 1844,1483.2 1848,1483.3 1852,1483.4 1856,1483.4 1860,1483.5 1864,1483.6 1868,1483.6 1872,1483.7 1876,1483.8 1880,1483.8 1884,1483.9 1888,1483.9 1892,1484 1896,1484.1 1900,1484.1 1904,1484.2 1908,1484.2 1912,1484.3 1916,1484.3 1920,1484.4 1924,1484.4 1928,1484.5 1932,1484.5 1936,1484.6 1940,1484.6 1944,1484.7 1948,1484.7 1952,1484.8 1956,1484.8 1960,1484.9 1964,1484.9 1968,1484.9 1972,1485 1976,1485 1980,1485.1 1984,1485.1 1988,1485.2 1992,1485.2 1996,1485.2 2000,1485.3 2004,1485.3 2008,1485.4 2012,1485.4 2016,1485.5 2020,1485.5 2024,1485.5 2028,1485.6 2032,1485.6 2036,1485.7 2040,1485.7 2044,1485.7 2048,1485.8 2052,1485.8 2056,1485.9 2060,1485.9 2064,1485.9 2068,1486 2072,1486 2076,1486 2080,1486.1 2084,1486.1 2088,1486.2 2092,1486.2 2096,1486.2 2100,1486.3 2104,1486.3 2108,1486.3 2112,1486.4 2116,1486.4 2120,1486.4 2124,1486.5 2128,1486.5 2132,1486.5 2136,1486.6 2140,1486.6 2144,1486.6 2148,1486.7 2152,1486.7 2156,1486.8 2160,1486.8 2164,1486.8 2168,1486.9 2172,1486.9 2176,1486.9 2180,1487 2184,1487 2188,1487 2192,1487.1 2196,1487.1 2200,1487.1 2204,1487.2 2208,1487.2 2212,1487.2 2216,1487.2 2220,1487.3 2224,1487.3 2228,1487.3 2232,1487.4 2236,1487.4 2240,1487.4 2244,1487.5 2248,1487.5 2251,1487.5" stroke="#ff00ff" stroke-width="11"/>
<polyline points="146,1473.1 148,1473.1 152,1473.1 156,1473.2 160,1473.2 164,1473.2 168,1473.2 172,1473.3 176,1473.3 180,1473.3 184,1473.4 188,1473.4 192,1473.4 196,1473.5 200,1473.5 204,1473.5 208,1473.5 212,1473.6 216,1473.6 220,1473.6 224,1473.7 228,1473.7 232,1473.7 236,1473.7 240,1473.8 244,1473.8 248,1473.8 252,1473.9 256,1473.9 260,1473.9 264,1474 268,1474 272,1474 276,1474 280,1474.1 284,1474.1 288,1474.1 292,1474.2 296,1474.2 300,1474.2 304,1474.2 308,1474.3 312,1474.3 316,1474.3 320,1474.4 324,1474.4 328,1474.4 332,1474.4 336,1474.5 340,1474.5 344,1474.5 348,1474.6 352,1474.6 356,1474.6 360,1474.6 364,1474.7 368,1474.7 372,1474.7 376,1474.8 380,1474.8 384,1474.8 388,1474.8 392,1474.9 396,1474.9 400,1474.9 404,1474.9 408,1475 412,1475 416,1475 420,1475.1 424,1475.1 428,1475.1 432,1475.1 436,1475.2 440,1475.2 444,1475.2 448,1475.3 452,1475.3 456,1475.3 460,1475.3 464,1475.4 468,1475.4 472,1475.4 476,1475.4 480,1475.5 484,1475.5 488,1475.5 492,1475.6 496,1475.6 500,1475.6 504,1475.6 508,1475.7 512,1475.7 516,1475.7 520,1475.7 524,1475.8 528,1475.8 532,1475.8 536,1475.8 540,1475.9 544,1475.9 548,1475.9 552,1475.9 556,1476 560,1476 564,1476 568,1476.1 572,1476.1 576,1476.1 580,1476.1 584,1476.2 588,1476.2 592,1476.2 596,1476.2 600,1476.3 604,1476.3 608,1476.3 612,1476.3 616,1476.4 620,1476.4 624,1476.4 628,1476.4 632,1476.5 636,1476.5 640,1476.5 644,1476.5 648,1476.6 652,1476.6 656,1476.6 660,1476.6 664,1476.7 668,1476.7 672,1476.7 676,1476.7 680,1476.7 684,1476.8 688,1476.8 692,1476.8 696,1476.8 700,1476.9 704,1476.9 708,1476.9 712,1476.9 716,1477 720,1477 724,1477 728,1477 732,1477 736,1477.1 740,1477.1 744,1477.1 748,1477.1 752,1477.2 756,1477.2 760,1477.2 764,1477.2 768,1477.2 772,1477.3 776,1477.3 780,1477.3 784,1477.3 788,1477.3 792,1477.4 796,1477.4 800,1477.4 804,1477.4 808,1477.4 812,1477.5 816,1477.5 820,1477.5 824,1477.5 828,1477.5 832,1477.6 836,1477.6 840,1477.6 844,1477.6 848,1477.6 852,1477.6 856,1477.7 860,1477.7 864,1477.7 868,1477.7 872,1477.7 876,1477.7 880,1477.8 884,1477.8 888,1477.8 892,1477.8 896,1477.8 900,1477.8 904,1477.9 908,1477.9 912,1477.9 916,1477.9 920,1477.9 924,1477.9 928,1477.9 932,1477.9 936,1478 940,1478 944,1478 948,1478 952,1478 956,1478 960,1478 964,1478 968,1478 972,1478 976,1478.1 980,1478.1 984,1478.1 988,1478.1 992,1478.1 996,1478.1 1000,1478.1 1004,1478.1 1008,1478.1 1012,1478.1 1016,1478.1 1020,1478.1 1024,1478.1 1028,1478.1 1032,1478.1 1036,1478.1 1040,1478.1 1044,1478.1 1048,1478.1 1052,1478.1 1056,1478.1 1060,1478.1 1064,1478.1 1068,1478.1 1072,1478.1 1076,1478.1 1080,1478.1 1084,1478.1 1088,1478.1 1092,1478.1 1096,1478.1 1100,1478.1 1104,1478.1 1108,1478 1112,1478 1116,1478 1120,1478 1124,1478 1128,1478 1132,1478 1136,1477.9 1140,1477.9 1144,1477.9 1148,1477.9 1152,1477.9 1156,1477.8 1160,1477.8 1164,1477.8 1168,1477.8 1172,1477.7 1176,1477.7 1180,1477.7 1184,1477.6 1188,1477.6 1192,1477.6 1196,1477.5 1200,1477.5 1204,1477.5 1208,1477.4 1212,1477.4 1216,1477.3 1220,1477.3 1224,1477.2 1228,1477.2 1232,1477.1 1236,1477.1 1240,1477 1244,1477 1248,1476.9 1252,1476.9 1256,1476.8 1260,1476.7 1264,1476.7 1268,1476.6 1272,1476.5 1276,1476.4 1280,1476.4 1284,1476.3 1288,1476.2 1292,1476.1 1296,1476 1300,1475.9 1304,1475.9 1308,1475.8 1312,1475.7 1316,1475.6 1320,1475.4 1324,1475.3 1328,1475.2 1332,1475.1 1336,1475 1340,1474.9 1344,1474.7 1348,1474.6 1352,1474.5 1356,1474.4 1360,1474.2 1364,1474.1 1368,1473.9 1372,1473.8 1376,1473.6 1380,1473.5 1384,1473.3 1388,1473.1 1392,1473 1396,1472.8 1400,1472.6 1404,1472.4 1408,1472.2 1412,1472.1 1416,1471.9 1420,1471.7 1424,1471.5 1428,1471.3 1432,1471.1 1436,1470.9 1440,1470.6 1444,1470.4 1448,1470.2 1452,1470 1456,1469.8 1460,1469.6 1464,1469.3 1468,1469.1 1472,1468.9 1476,1468.7 1480,1468.5 1484,1468.2 1488,1468 1492,1467.8 1496,1467.6 1500,1467.4 1504,1467.2 1508,1467 1512,1466.8 1516,1466.6 1520,1466.4 1524,1466.3 1528,1466.1 1532,1466 1536,1465.8 1540,1465.7 1544,1465.6 1548,1465.4 1552,1465.3 1556,1465.3 1560,1465.2 1564,1465.1 1568,1465.1 1572,1465 1576,1465 1580,1465 1584,1465 1588,1465.1 1592,1465.1 1596,1465.2 1600,1465.2 1604,1465.3 1608,1465.4 1612,1465.5 1616,1465.6 1620,1465.7 1624,1465.8 1628,1465.9 1632,1466 1636,1466.2 1640,1466.3 1644,1466.5 1648,1466.7 1652,1466.8 1656,1467 1660,1467.2 1664,1467.4 1668,1467.6 1672,1467.8 1676,1468 1680,1468.2 1684,1468.4 1688,1468.6 1692,1468.8 1696,1469.1 1700,1469.3 1704,1469.5 1708,1469.7 1712,1470 1716,1470.2 1720,1470.4 1724,1470.7 1728,1470.9 1732,1471.1 1736,1471.4 1740,1471.6 1744,1471.9 1748,1472.1 1752,1472.3 1756,1472.6 1760,1472.8 1764,1473 1768,1473.2 1772,1473.5 1776,1473.7 1780,1473.9 1784,1474.1 1788,1474.4 1792,1474.6 1796,1474.8 1800,1475 1804,1475.2 1808,1475.4 1812,1475.6 1816,1475.8 1820,1476 1824,1476.2 1828,1476.4 1832,1476.6 1836,1476.8 1840,1477 1844,1477.2 1848,1477.4 1852,1477.6 1856,1477.7 1860,1477.9 1864,1478.1 1868,1478.3 1872,1478.4 1876,1478.6 1880,1478.8 1884,1478.9 1888,1479.1 1892,1479.3 1896,1479.4 1900,1479.6 1904,1479.7 1908,1479.9 1912,1480 1916,1480.2 1920,1480.3 1924,1480.4 1928,1480.6 1932,1480.7 1936,1480.9 1940,1481 1944,1481.1 1948,1481.2 1952,1481.4 1956,1481.5 1960,1481.6 1964,1481.7 1968,1481.9 1972,1482 1976,1482.1 1980,1482.2 1984,1482.3 1988,1482.4 1992,1482.6 1996,1482.7 2000,1482.8 2004,1482.9 2008,1483 2012,1483.1 2016,1483.2 2020,1483.3 2024,1483.4 2028,1483.5 2032,1483.6 2036,1483.7 2040,1483.8 2044,1483.9 2048,1484 2052,1484.1 2056,1484.2 2060,1484.2 2064,1484.3 2068,1484.4 2072,1484.5 2076,1484.6 2080,1484.7 2084,1484.8 2088,1484.8 2092,1484.9 2096,1485 2100,1485.1 2104,1485.2 2108,1485.3 2112,1485.3 2116,1485.4 2120,1485.5 2124,1485.6 2128,1485.6 2132,1485.7 2136,1485.8 2140,1485.9 2144,1485.9 2148,1486 2152,1486.1 2156,1486.1 2160,1486.2 2164,1486.3 2168,1486.3 2172,1486.4 2176,1486.5 2180,1486.5 2184,1486.6 2188,1486.7 2192,1486.7 2196,1486.8 2200,1486.9 2204,1486.9 2208,1487 2212,1487.1 2216,1487.1 2220,1487.2 2224,1487.2 2228,1487.3 2232,1487.4 2236,1487.4 2240,1487.5 2244,1487.5 2248,1487.6 2251,1487.6" stroke="#808080" stroke-width="11"/>
<polyline points="146,1474.4 148,1474.5 152,1474.5 156,1474.5 160,1474.5 164,1474.5 168,1474.5 172,1474.5 176,1474.6 180,1474.6 184,1474.6 188,1474.6 192,1474.6 196,1474.6 200,1474.6 204,1474.6 208,1474.6 212,1474.7 216,1474.7 220,1474.7 224,1474.7 228,1474.7 232,1474.7 236,1474.7 240,1474.7 244,1474.7 248,1474.7 252,1474.7 256,1474.7 260,1474.7 264,1474.7 268,1474.7 272,1474.7 276,1474.7 280,1474.7 284,1474.7 288,1474.7 292,1474.7 296,1474.7 300,1474.7 304,1474.7 308,1474.7 312,1474.7 316,1474.7 320,1474.7 324,1474.6 328,1474.6 332,1474.6 336,1474.6 340,1474.6 344,1474.6 348,1474.6 352,1474.5 356,1474.5 360,1474.5 364,1474.5 368,1474.4 372,1474.4 376,1474.4 380,1474.4 384,1474.3 388,1474.3 392,1474.3 396,1474.3 400,1474.2 404,1474.2 408,1474.1 412,1474.1 416,1474.1 420,1474 424,1474 428,1473.9 432,1473.9 436,1473.9 440,1473.8 444,1473.8 448,1473.7 452,1473.7 456,1473.6 460,1473.6 464,1473.5 468,1473.4 472,1473.4 476,1473.3 480,1473.3 484,1473.2 488,1473.1 492,1473.1 496,1473 500,1472.9 504,1472.9 508,1472.8 512,1472.7 516,1472.6 520,1472.6 524,1472.5 528,1472.4 532,1472.3 536,1472.2 540,1472.1 544,1472 548,1472 552,1471.9 556,1471.8 560,1471.7 564,1471.6 568,1471.5 572,1471.4 576,1471.3 580,1471.2 584,1471.1 588,1471 592,1470.8 596,1470.7 600,1470.6 604,1470.5 608,1470.4 612,1470.3 616,1470.2 620,1470 624,1469.9 628,1469.8 632,1469.7 636,1469.5 640,1469.4 644,1469.3 648,1469.1 652,1469 656,1468.9 660,1468.7 664,1468.6 668,1468.5 672,1468.3 676,1468.2 680,1468 684,1467.9 688,1467.7 692,1467.6 696,1467.4 700,1467.3 704,1467.1 708,1467 712,1466.8 716,1466.7 720,1466.5 724,1466.4 728,1466.2 732,1466 736,1465.9 740,1465.7 744,1465.6 748,1465.4 752,1465.2 756,1465.1 760,1464.9 764,1464.7 768,1464.6 772,1464.4 776,1464.2 780,1464.1 784,1463.9 788,1463.7 792,1463.6 796,1463.4 800,1463.2 804,1463.1 808,1462.9 812,1462.7 816,1462.6 820,1462.4 824,1462.2 828,1462.1 832,1461.9 836,1461.7 840,1461.6 844,1461.4 848,1461.2 852,1461.1 856,1460.9 860,1460.8 864,1460.6 868,1460.4 872,1460.3 876,1460.1 880,1460 884,1459.8 888,1459.6 892,1459.5 896,1459.3 900,1459.2 904,1459 908,1458.9 912,1458.7 916,1458.6 920,1458.5 924,1458.3 928,1458.2 932,1458 936,1457.9 940,1457.8 944,1457.6 948,1457.5 952,1457.4 956,1457.3 960,1457.1 964,1457 968,1456.9 972,1456.8 976,1456.7 980,1456.6 984,1456.5 988,1456.4 992,1456.3 996,1456.2 1000,1456.1 1004,1456 1008,1455.9 1012,1455.8 1016,1455.7 1020,1455.6 1024,1455.5 1028,1455.5 1032,1455.4 1036,1455.3 1040,1455.3 1044,1455.2 1048,1455.2 1052,1455.1 1056,1455.1 1060,1455 1064,1455 1068,1454.9 1072,1454.9 1076,1454.9 1080,1454.8 1084,1454.8 1088,1454.8 1092,1454.8 1096,1454.7 1100,1454.7 1104,1454.7 1108,1454.7 1112,1454.7 1116,1454.7 1120,1454.7 1124,1454.8 1128,1454.8 1132,1454.8 1136,1454.8 1140,1454.9 1144,1454.9 1148,1454.9 1152,1455 1156,1455.1 1160,1455.1 1164,1455.2 1168,1455.3 1172,1455.4 1176,1455.5 1180,1455.7 1184,1455.8 1188,1455.9 1192,1456.1 1196,1456.2 1200,1456.4 1204,1456.6 1208,1456.8 1212,1456.9 1216,1457.1 1220,1457.3 1224,1457.6 1228,1457.8 1232,1458 1236,1458.2 1240,1458.5 1244,1458.7 1248,1459 1252,1459.2 1256,1459.5 1260,1459.8 1264,1460 1268,1460.3 1272,1460.6 1276,1460.9 1280,1461.2 1284,1461.5 1288,1461.8 1292,1462.1 1296,1462.4 1300,1462.7 1304,1463 1308,1463.3 1312,1463.7 1316,1464 1320,1464.3 1324,1464.6 1328,1465 1332,1465.3 1336,1465.6 1340,1466 1344,1466.3 1348,1466.6 1352,1467 1356,1467.3 1360,1467.6 1364,1468 1368,1468.3 1372,1468.6 1376,1468.9 1380,1469.3 1384,1469.6 1388,1469.9 1392,1470.2 1396,1470.6 1400,1470.9 1404,1471.2 1408,1471.5 1412,1471.8 1416,1472.1 1420,1472.4 1424,1472.7 1428,1473 1432,1473.3 1436,1473.6 1440,1473.9 1444,1474.2 1448,1474.5 1452,1474.8 1456,1475.1 1460,1475.3 1464,1475.6 1468,1475.9 1472,1476.1 1476,1476.4 1480,1476.6 1484,1476.9 1488,1477.1 1492,1477.4 1496,1477.6 1500,1477.8 1504,1478.1 1508,1478.3 1512,1478.5 1516,1478.7 1520,1478.9 1524,1479.1 1528,1479.3 1532,1479.5 1536,1479.7 1540,1479.9 1544,1480.1 1548,1480.3 1552,1480.5 1556,1480.6 1560,1480.8 1564,1481 1568,1481.1 1572,1481.3 1576,1481.5 1580,1481.6 1584,1481.8 1588,1481.9 1592,1482 1596,1482.2 1600,1482.3 1604,1482.4 1608,1482.6 1612,1482.7 1616,1482.8 1620,1482.9 1624,1483 1628,1483.2 1632,1483.3 1636,1483.4 1640,1483.5 1644,1483.6 1648,1483.7 1652,1483.8 1656,1483.9 1660,1484 1664,1484 1668,1484.1 1672,1484.2 1676,1484.3 1680,1484.4 1684,1484.5 1688,1484.5 1692,1484.6 1696,1484.7 1700,1484.7 1704,1484.8 1708,1484.9 1712,1484.9 1716,1485 1720,1485.1 1724,1485.1 1728,1485.2 1732,1485.3 1736,1485.3 1740,1485.4 1744,1485.4 1748,1485.5 1752,1485.5 1756,1485.6 1760,1485.6 1764,1485.7 1768,1485.7 1772,1485.8 1776,1485.8 1780,1485.9 1784,1485.9 1788,1485.9 1792,1486 1796,1486 1800,1486.1 1804,1486.1 1808,1486.1 1812,1486.2 1816,1486.2 1820,1486.3 1824,1486.3 1828,1486.3 1832,1486.4 1836,1486.4 1840,1486.4 1844,1486.5 1848,1486.5 1852,1486.5 1856,1486.6 1860,1486.6 1864,1486.6 1868,1486.7 1872,1486.7 1876,1486.7 1880,1486.8 1884,1486.8 1888,1486.8 1892,1486.9 1896,1486.9 1900,1486.9 1904,1487 1908,1487 1912,1487 1916,1487.1 1920,1487.1 1924,1487.1 1928,1487.1 1932,1487.2 1936,1487.2 1940,1487.2 1944,1487.3 1948,1487.3 1952,1487.3 1956,1487.4 1960,1487.4 1964,1487.4 1968,1487.4 1972,1487.5 1976,1487.5 1980,1487.5 1984,1487.6 1988,1487.6 1992,1487.6 1996,1487.6 2000,1487.7 2004,1487.7 2008,1487.7 2012,1487.8 2016,1487.8 2020,1487.8 2024,1487.8 2028,1487.9 2032,1487.9 2036,1487.9 2040,1488 2044,1488 2048,1488 2052,1488 2056,1488.1 2060,1488.1 2064,1488.1 2068,1488.2 2072,1488.2 2076,1488.2 2080,1488.2 2084,1488.3 2088,1488.3 2092,1488.3 2096,1488.3 2100,1488.4 2104,1488.4 2108,1488.4 2112,1488.5 2116,1488.5 2120,1488.5 2124,1488.5 2128,1488.6 2132,1488.6 2136,1488.6 2140,1488.7 2144,1488.7 2148,1488.7 2152,1488.7 2156,1488.8 2160,1488.8 2164,1488.8 2168,1488.8 2172,1488.9 2176,1488.9 2180,1488.9 2184,1489 2188,1489 2192,1489 2196,1489 2200,1489.1 2204,1489.1 2208,1489.1 2212,1489.2 2216,1489.2 2220,1489.2 2224,1489.2 2228,1489.3 2232,1489.3 2236,1489.3 2240,1489.4 2244,1489.4 2248,1489.4 2251,1489.4" stroke="#ffff80" stroke-width="11"/>
</g>
<path d="M147 1518V1546.5 M357.2 1518V1533.5 M567.4 1518V1546.5 M777.6 1518V1533.5 M987.8 1518V1546.5 M1198 1518V1533.5 M1408.2 1518V1546.5 M1618.4 1518V1533.5 M1828.6 1518V1546.5 M2038.8 1518V1533.5 M2249 1518V1546.5" stroke="#000" stroke-width="5.8" fill="none"/>
<text x="147" y="1619.5" font-family="'Liberation Serif','Times New Roman',serif" font-weight="bold" font-size="74" text-anchor="middle">536</text>
<text x="567.4" y="1619.5" font-family="'Liberation Serif','Times New Roman',serif" font-weight="bold" font-size="74" text-anchor="middle">534</text>
<text x="987.8" y="1619.5" font-family="'Liberation Serif','Times New Roman',serif" font-weight="bold" font-size="74" text-anchor="middle">532</text>
<text x="1408.2" y="1619.5" font-family="'Liberation Serif','Times New Roman',serif" font-weight="bold" font-size="74" text-anchor="middle">530</text>
<text x="1828.6" y="1619.5" font-family="'Liberation Serif','Times New Roman',serif" font-weight="bold" font-size="74" text-anchor="middle">528</text>
<text x="2249" y="1619.5" font-family="'Liberation Serif','Times New Roman',serif" font-weight="bold" font-size="74" text-anchor="middle">526</text>
<g stroke-width="10.8" stroke-linecap="round">
<path d="M1366.6 137.3H1530.1" stroke="#00f"/>
<path d="M1797.5 137.2H1961.3" stroke="#808080"/>
<path d="M1366.6 236.3H1530.1" stroke="#f0f"/>
<path d="M1797.5 235.5H1961.3" stroke="#ffff80"/>
</g>
<text x="1551.7" y="161.8" font-family="'Liberation Serif','Times New Roman',serif" font-weight="bold" font-size="77.4" textLength="225.3" lengthAdjust="spacingAndGlyphs">Ti-OH</text>
<text x="1982" y="161.8" font-family="'Liberation Serif','Times New Roman',serif" font-weight="bold" font-size="77.4" textLength="187.7" lengthAdjust="spacingAndGlyphs">Ag-O</text>
<text x="1551.1" y="260.5" font-family="'Liberation Serif','Times New Roman',serif" font-weight="bold" font-size="77.4" textLength="165.5" lengthAdjust="spacingAndGlyphs">Ti-O</text>
<text x="1982.6" y="259.9" font-family="'Liberation Serif','Times New Roman',serif" font-weight="bold" font-size="77.4" textLength="239.5" lengthAdjust="spacingAndGlyphs">Ti-O-P</text>
<text x="195.9" y="261.6" font-family="'Liberation Serif','Times New Roman',serif" font-weight="bold" font-size="77.35" textLength="415.4" lengthAdjust="spacingAndGlyphs">R-PAgT-3:1</text>
<text x="178.4" y="569" font-family="'Liberation Serif','Times New Roman',serif" font-weight="bold" font-size="77.35" textLength="417.7" lengthAdjust="spacingAndGlyphs">R-PAgT-5:1</text>
<text x="175.8" y="855.5" font-family="'Liberation Serif','Times New Roman',serif" font-weight="bold" font-size="77.35" textLength="416.0" lengthAdjust="spacingAndGlyphs">R-PAgT-7:1</text>
<text x="178.4" y="1149.9" font-family="'Liberation Serif','Times New Roman',serif" font-weight="bold" font-size="77.35" textLength="457.5" lengthAdjust="spacingAndGlyphs">R-PAgT-10:1</text>
<text x="181.5" y="1426.7" font-family="'Liberation Serif','Times New Roman',serif" font-weight="bold" font-size="77.35" textLength="199.9" lengthAdjust="spacingAndGlyphs">PAgT</text>
<text x="899.4" y="1706.9" font-family="'Liberation Serif','Times New Roman',serif" font-weight="bold" font-size="85.4" textLength="748.7" lengthAdjust="spacingAndGlyphs">Binding energy (eV)</text>
<g transform="translate(103.9 1057) rotate(-90)"><text x="-2.9" y="0" font-family="'Liberation Serif','Times New Roman',serif" font-weight="bold" font-size="85.4" textLength="530.6" lengthAdjust="spacingAndGlyphs">Intensity (a.u.)</text></g>
</svg>
</body></html>
